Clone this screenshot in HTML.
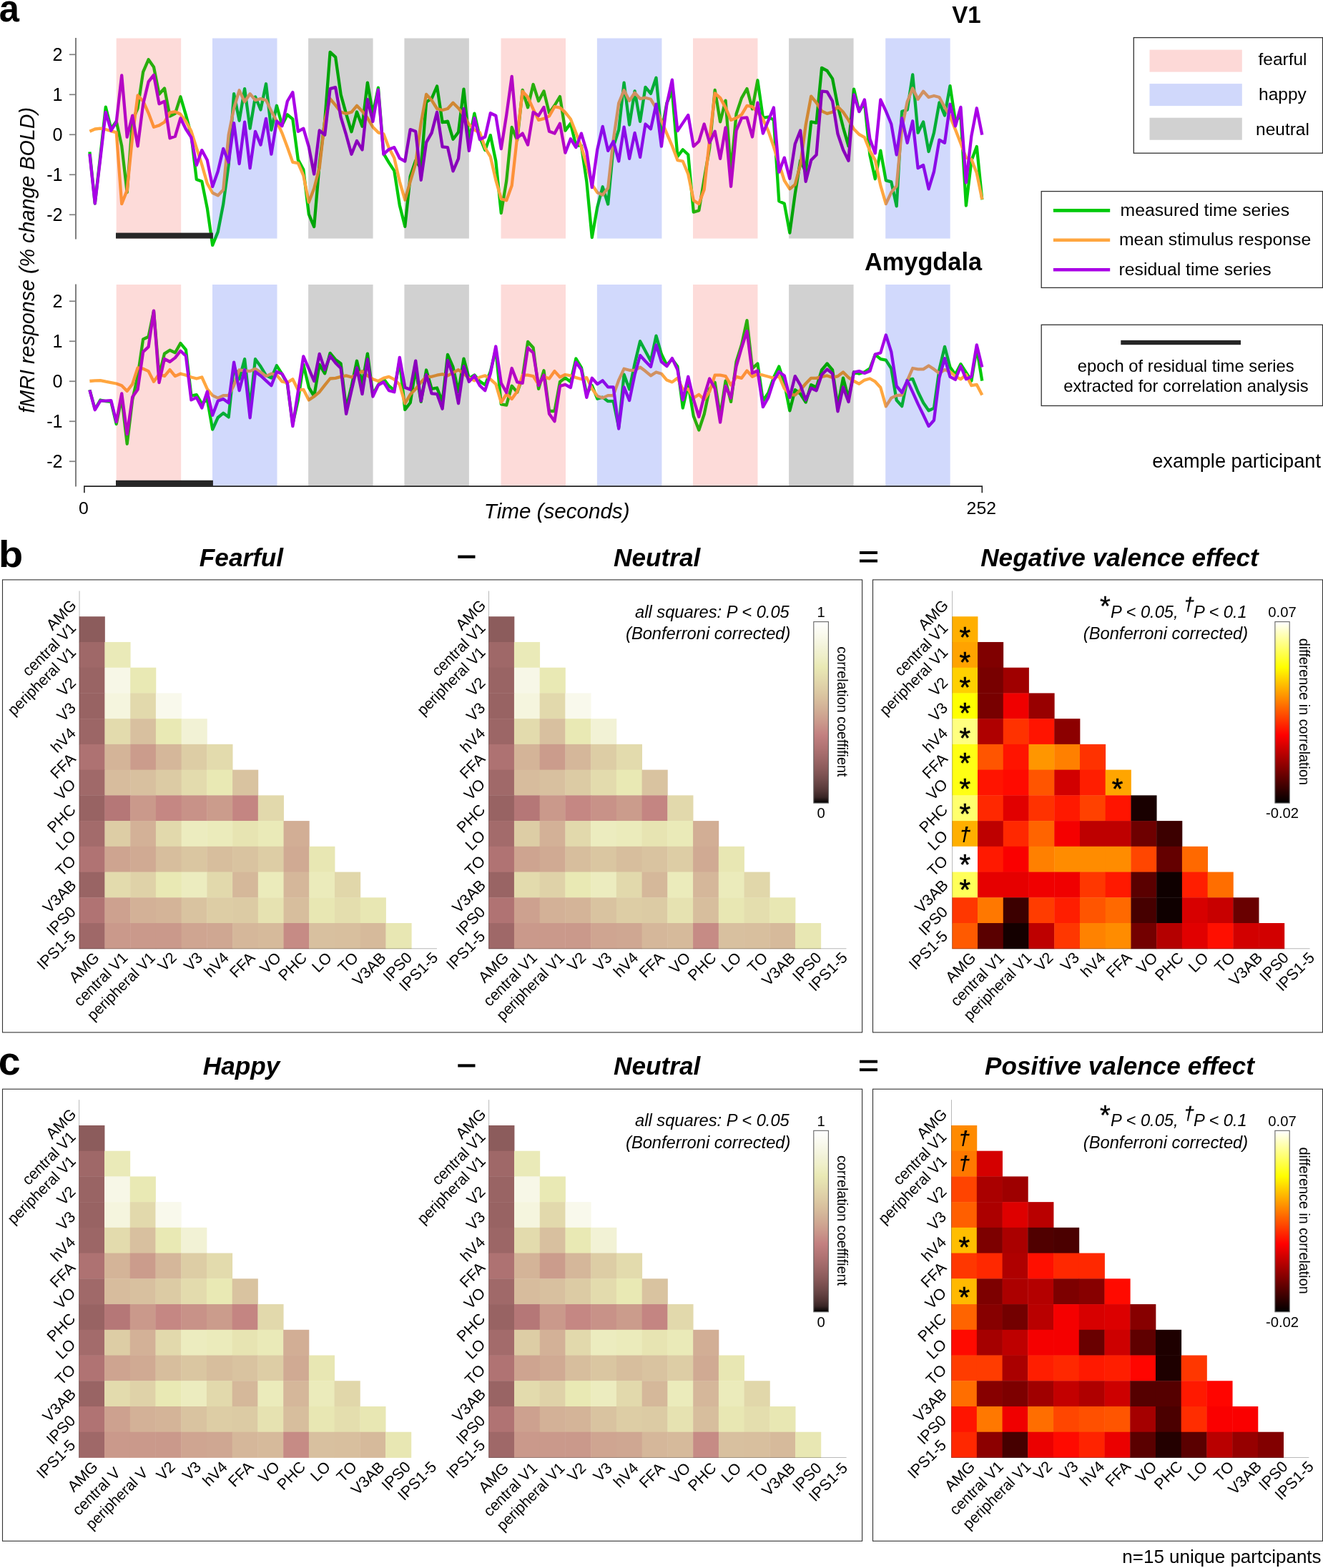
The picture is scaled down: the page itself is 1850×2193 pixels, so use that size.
<!DOCTYPE html>
<html lang="en"><head><meta charset="utf-8"><title>Figure</title>
<style>
html,body{margin:0;padding:0;background:#fff;}
body{width:1850px;height:2193px;overflow:hidden;}
svg{display:block;font-family:"Liberation Sans", Arial, Helvetica, sans-serif;}
text{font-family:"Liberation Sans", Arial, Helvetica, sans-serif;}
</style></head><body>
<svg xmlns="http://www.w3.org/2000/svg" width="1850" height="2193" viewBox="0 0 1850 2193">
<rect x="0" y="0" width="1850" height="2193" fill="#fff"/>
<polyline points="125.4,212.4 132.8,284.6 140.3,218.0 147.8,149.7 155.3,179.9 162.7,169.8 170.2,204.0 177.7,268.9 185.2,168.7 192.6,151.3 200.1,100.7 207.6,83.3 215.0,93.7 222.5,131.7 230.0,123.5 237.5,162.5 244.9,158.9 252.4,135.3 259.9,160.9 267.4,188.9 274.8,251.0 282.3,253.8 289.8,291.3 297.2,342.9 304.7,324.4 312.2,285.7 319.7,230.3 327.1,131.2 334.6,168.7 342.1,124.2 349.6,179.7 357.0,135.3 364.5,153.4 372.0,117.3 379.4,181.8 386.9,147.8 394.4,174.9 401.9,160.3 409.3,166.5 416.8,223.4 424.3,237.2 431.8,299.7 439.2,317.1 446.7,228.7 454.2,169.1 461.6,72.9 469.1,79.8 476.6,132.3 484.1,159.3 491.5,184.3 499.0,156.5 506.5,176.7 513.9,115.6 521.4,159.3 528.9,122.6 536.4,214.8 543.8,227.3 551.3,238.8 558.8,286.9 566.3,316.8 573.7,246.6 581.2,224.5 588.7,235.6 596.1,142.7 603.6,137.8 611.1,120.5 618.6,171.1 626.0,169.7 633.5,194.7 641.0,184.9 648.5,124.6 655.9,196.8 663.4,158.6 670.9,191.9 678.3,210.0 685.8,189.1 693.3,225.2 700.8,298.0 708.2,252.9 715.7,178.0 723.2,196.1 730.7,126.0 738.1,150.3 745.6,118.0 753.1,141.3 760.5,127.5 768.0,157.9 775.5,147.5 783.0,135.0 790.4,182.6 797.9,172.5 805.4,203.7 812.9,203.7 820.3,253.6 827.8,332.0 835.3,289.7 842.7,261.3 850.2,285.5 857.7,205.0 865.2,181.5 872.6,115.7 880.1,174.5 887.6,127.4 895.1,169.8 902.5,121.9 910.0,130.9 917.5,108.8 924.9,185.6 932.4,144.1 939.9,127.4 947.4,218.9 954.8,209.2 962.3,216.2 969.8,296.6 977.3,294.5 984.7,250.2 992.2,206.8 999.7,126.0 1007.1,170.4 1014.6,140.6 1022.1,240.4 1029.6,159.3 1037.0,137.1 1044.5,124.0 1052.0,152.4 1059.4,112.3 1066.9,164.8 1074.4,163.7 1081.9,167.6 1089.3,281.4 1096.8,284.8 1104.3,325.7 1111.8,271.0 1119.2,224.5 1126.7,240.4 1134.2,170.4 1141.6,171.8 1149.1,94.8 1156.6,99.0 1164.1,110.1 1171.5,148.3 1179.0,178.1 1186.5,204.4 1194.0,124.6 1201.4,155.8 1208.9,143.4 1216.4,216.9 1223.8,250.2 1231.3,210.6 1238.8,252.3 1246.3,254.3 1253.7,288.3 1261.2,155.8 1268.7,153.7 1276.2,104.5 1283.6,185.7 1291.1,170.4 1298.6,212.0 1306.0,185.7 1313.5,143.3 1321.0,161.4 1328.5,120.1 1335.9,169.0 1343.4,162.1 1350.9,287.6 1358.4,224.5 1365.8,205.0 1373.3,279.2" fill="none" stroke="#00c90a" stroke-width="4.3" stroke-linejoin="round" stroke-linecap="butt"/>
<polyline points="125.4,183.8 132.8,180.5 140.3,179.7 147.8,181.0 155.3,183.3 162.7,185.2 170.2,285.2 177.7,266.1 185.2,191.1 192.6,133.4 200.1,141.5 207.6,158.1 215.0,177.7 222.5,175.4 230.0,170.7 237.5,157.5 244.9,156.1 252.4,159.7 259.9,169.8 267.4,183.3 274.8,206.8 282.3,230.3 289.8,256.6 297.2,269.8 304.7,273.4 312.2,265.6 319.7,188.3 327.1,151.3 334.6,126.3 342.1,142.3 349.6,131.2 357.0,140.1 364.5,138.1 372.0,140.1 379.4,155.4 386.9,169.3 394.4,186.1 401.9,206.1 409.3,226.9 416.8,228.2 424.3,245.4 431.8,282.9 439.2,263.6 446.7,234.5 454.2,168.7 461.6,138.1 469.1,147.1 476.6,156.8 484.1,158.9 491.5,156.8 499.0,147.8 506.5,155.4 513.9,165.1 521.4,177.7 528.9,185.3 536.4,187.3 543.8,206.8 551.3,221.1 558.8,253.8 566.3,279.6 573.7,253.8 581.2,229.0 588.7,172.1 596.1,131.9 603.6,140.1 611.1,152.0 618.6,154.0 626.0,152.0 633.5,143.7 641.0,151.3 648.5,161.0 655.9,174.1 663.4,181.8 670.9,185.3 678.3,206.8 685.8,219.2 693.3,251.8 700.8,278.2 708.2,280.3 715.7,259.4 723.2,191.5 730.7,127.7 738.1,136.0 745.6,152.7 753.1,167.9 760.5,165.9 768.0,162.4 775.5,149.2 783.0,150.6 790.4,157.2 797.9,166.5 805.4,185.9 812.9,205.4 820.3,230.3 827.8,258.1 835.3,269.2 842.7,272.6 850.2,262.9 857.7,195.6 865.2,144.3 872.6,126.3 880.1,140.9 887.6,129.8 895.1,138.1 902.5,136.7 910.0,138.8 917.5,151.3 924.9,169.3 932.4,186.6 939.9,204.0 947.4,224.1 954.8,225.5 962.3,243.5 969.8,280.3 977.3,285.1 984.7,265.0 992.2,195.6 999.7,130.5 1007.1,136.8 1014.6,150.6 1022.1,167.9 1029.6,165.1 1037.0,160.3 1044.5,147.8 1052.0,149.2 1059.4,156.9 1066.9,166.5 1074.4,183.3 1081.9,205.4 1089.3,229.0 1096.8,252.5 1104.3,264.3 1111.8,258.1 1119.2,230.3 1126.7,174.9 1134.2,134.7 1141.6,143.7 1149.1,155.4 1156.6,158.9 1164.1,156.8 1171.5,149.2 1179.0,156.8 1186.5,167.9 1194.0,180.4 1201.4,188.0 1208.9,192.2 1216.4,210.9 1223.8,224.1 1231.3,259.4 1238.8,285.1 1246.3,269.2 1253.7,260.1 1261.2,179.0 1268.7,142.3 1276.2,123.5 1283.6,138.8 1291.1,127.7 1298.6,136.0 1306.0,134.0 1313.5,136.0 1321.0,149.9 1328.5,162.7 1335.9,181.1 1343.4,200.5 1350.9,220.6 1358.4,222.7 1365.8,242.1 1373.3,278.9" fill="none" stroke="#ffa63f" stroke-width="4.3" stroke-linejoin="round" stroke-linecap="butt"/>
<polyline points="125.4,215.2 132.8,284.6 140.3,221.9 147.8,156.9 155.3,182.7 162.7,170.9 170.2,105.4 177.7,191.7 185.2,161.7 192.6,204.5 200.1,145.7 207.6,114.4 215.0,104.9 222.5,145.2 230.0,141.8 237.5,193.3 244.9,190.8 252.4,165.3 259.9,180.5 267.4,192.2 274.8,230.9 282.3,210.1 289.8,224.1 297.2,261.1 304.7,239.8 312.2,207.9 319.7,226.9 327.1,172.1 334.6,229.0 342.1,170.7 349.6,235.2 357.0,183.8 364.5,202.6 372.0,165.9 379.4,215.7 386.9,169.3 394.4,176.3 401.9,141.5 409.3,129.1 416.8,183.8 424.3,179.7 431.8,205.4 439.2,243.5 446.7,182.5 454.2,188.7 461.6,124.2 469.1,122.2 476.6,163.8 484.1,188.7 491.5,215.7 499.0,197.0 506.5,209.5 513.9,138.8 521.4,170.0 528.9,125.6 536.4,215.7 543.8,208.9 551.3,206.1 558.8,221.3 566.3,225.5 573.7,181.1 581.2,183.8 588.7,251.8 596.1,199.1 603.6,185.9 611.1,156.8 618.6,205.4 626.0,206.1 633.5,239.3 641.0,221.9 648.5,152.0 655.9,210.9 663.4,165.1 670.9,195.0 678.3,191.5 685.8,158.2 693.3,161.7 700.8,208.1 708.2,161.0 715.7,106.9 723.2,192.9 730.7,186.6 738.1,202.6 745.6,156.8 753.1,161.7 760.5,149.9 768.0,183.8 775.5,186.6 783.0,172.8 790.4,213.7 797.9,194.2 805.4,206.1 812.9,186.6 820.3,211.6 827.8,262.2 835.3,208.9 842.7,176.9 850.2,210.9 857.7,197.7 865.2,225.5 872.6,177.7 880.1,221.9 887.6,185.9 895.1,219.9 902.5,173.5 910.0,180.4 917.5,145.7 924.9,204.7 932.4,145.7 939.9,111.7 947.4,183.1 954.8,172.1 962.3,161.0 969.8,204.7 977.3,197.7 984.7,173.5 992.2,199.5 999.7,183.8 1007.1,221.9 1014.6,178.3 1022.1,260.8 1029.6,182.5 1037.0,165.1 1044.5,164.4 1052.0,191.5 1059.4,143.7 1066.9,186.6 1074.4,168.7 1081.9,150.6 1089.3,240.7 1096.8,220.6 1104.3,249.7 1111.8,201.2 1119.2,182.5 1126.7,253.8 1134.2,224.1 1141.6,216.5 1149.1,127.7 1156.6,128.4 1164.1,141.5 1171.5,187.3 1179.0,209.5 1186.5,224.8 1194.0,132.5 1201.4,156.1 1208.9,139.5 1216.4,194.2 1223.8,214.4 1231.3,139.5 1238.8,155.4 1246.3,173.5 1253.7,216.5 1261.2,165.1 1268.7,199.8 1276.2,169.3 1283.6,235.2 1291.1,231.0 1298.6,264.3 1306.0,240.0 1313.5,195.6 1321.0,199.8 1328.5,145.7 1335.9,176.3 1343.4,149.9 1350.9,255.3 1358.4,190.1 1365.8,151.3 1373.3,188.7" fill="none" stroke="#a900e6" stroke-width="4.3" stroke-linejoin="round" stroke-linecap="butt"/>
<rect x="162.7" y="53.5" width="90.5" height="280.1" fill="rgba(244,40,30,0.17)"/>
<rect x="297.0" y="53.5" width="90.5" height="280.1" fill="rgba(20,60,240,0.195)"/>
<rect x="431.1" y="53.5" width="90.5" height="280.1" fill="rgba(0,0,0,0.18)"/>
<rect x="565.4" y="53.5" width="90.5" height="280.1" fill="rgba(0,0,0,0.18)"/>
<rect x="700.5" y="53.5" width="90.5" height="280.1" fill="rgba(244,40,30,0.17)"/>
<rect x="834.9" y="53.5" width="90.5" height="280.1" fill="rgba(20,60,240,0.195)"/>
<rect x="969.0" y="53.5" width="90.5" height="280.1" fill="rgba(244,40,30,0.17)"/>
<rect x="1103.1" y="53.5" width="90.5" height="280.1" fill="rgba(0,0,0,0.18)"/>
<rect x="1238.2" y="53.5" width="90.5" height="280.1" fill="rgba(20,60,240,0.195)"/>
<rect x="162.0" y="325.6" width="135.9" height="8" fill="#262626"/>
<line x1="106.0" y1="53.0" x2="106.0" y2="334.6" stroke="#808080" stroke-width="2"/>
<line x1="96.9" y1="76.3" x2="106.0" y2="76.3" stroke="#808080" stroke-width="1.7"/>
<text x="87.6" y="85.3" font-size="25.2" text-anchor="end" font-weight="normal" font-style="normal" fill="#000">2</text>
<line x1="96.9" y1="132.3" x2="106.0" y2="132.3" stroke="#808080" stroke-width="1.7"/>
<text x="87.6" y="141.3" font-size="25.2" text-anchor="end" font-weight="normal" font-style="normal" fill="#000">1</text>
<line x1="96.9" y1="188.3" x2="106.0" y2="188.3" stroke="#808080" stroke-width="1.7"/>
<text x="87.6" y="197.3" font-size="25.2" text-anchor="end" font-weight="normal" font-style="normal" fill="#000">0</text>
<line x1="96.9" y1="244.3" x2="106.0" y2="244.3" stroke="#808080" stroke-width="1.7"/>
<text x="87.6" y="253.3" font-size="25.2" text-anchor="end" font-weight="normal" font-style="normal" fill="#000">-1</text>
<line x1="96.9" y1="300.3" x2="106.0" y2="300.3" stroke="#808080" stroke-width="1.7"/>
<text x="87.6" y="309.3" font-size="25.2" text-anchor="end" font-weight="normal" font-style="normal" fill="#000">-2</text>
<polyline points="125.4,545.2 132.8,572.3 140.3,559.5 147.8,561.1 155.3,561.9 162.7,593.1 170.2,556.3 177.7,620.8 185.2,559.1 192.6,525.8 200.1,474.5 207.6,471.0 215.0,435.0 222.5,525.1 230.0,494.6 237.5,489.7 244.9,493.2 252.4,480.1 259.9,489.1 267.4,553.6 274.8,552.2 282.3,564.7 289.8,558.4 297.2,600.7 304.7,584.0 312.2,577.8 319.7,583.4 327.1,512.3 334.6,530.3 342.1,502.2 349.6,570.1 357.0,502.2 364.5,512.6 372.0,525.1 379.4,528.6 386.9,511.3 394.4,523.1 401.9,537.6 409.3,593.1 416.8,559.8 424.3,509.8 431.8,541.8 439.2,554.2 446.7,509.8 454.2,522.3 461.6,493.9 469.1,502.9 476.6,508.5 484.1,570.9 491.5,540.4 499.0,504.8 506.5,536.9 513.9,494.6 521.4,551.5 528.9,538.3 536.4,529.9 543.8,539.7 551.3,545.6 558.8,504.3 566.3,572.9 573.7,563.3 581.2,515.4 588.7,561.9 596.1,517.5 603.6,543.9 611.1,542.5 618.6,561.9 626.0,496.0 633.5,513.4 641.0,548.0 648.5,501.6 655.9,529.2 663.4,524.5 670.9,533.4 678.3,538.3 685.8,519.6 693.3,488.4 700.8,565.4 708.2,566.7 715.7,539.7 723.2,548.7 730.7,527.3 738.1,478.0 745.6,486.3 753.1,543.8 760.5,518.2 768.0,575.0 775.5,575.0 783.0,534.1 790.4,528.6 797.9,534.1 805.4,501.5 812.9,514.0 820.3,550.8 827.8,539.0 835.3,557.8 842.7,555.6 850.2,561.2 857.7,561.2 865.2,597.9 872.6,523.7 880.1,544.6 887.6,508.5 895.1,477.2 902.5,491.1 910.0,505.0 917.5,469.6 924.9,495.3 932.4,510.6 939.9,502.2 947.4,512.6 954.8,570.5 962.3,537.6 969.8,582.0 977.3,601.5 984.7,579.2 992.2,543.8 999.7,534.9 1007.1,582.0 1014.6,532.7 1022.1,561.9 1029.6,505.7 1037.0,482.1 1044.5,448.1 1052.0,515.4 1059.4,508.5 1066.9,560.5 1074.4,549.4 1081.9,527.9 1089.3,512.6 1096.8,535.5 1104.3,574.4 1111.8,545.2 1119.2,550.8 1126.7,562.6 1134.2,538.2 1141.6,541.7 1149.1,517.5 1156.6,508.5 1164.1,517.5 1171.5,568.1 1179.0,528.6 1186.5,557.0 1194.0,520.3 1201.4,522.7 1208.9,520.3 1216.4,515.4 1223.8,495.9 1231.3,502.2 1238.8,503.6 1246.3,515.4 1253.7,559.8 1261.2,568.1 1268.7,531.4 1276.2,529.9 1283.6,548.0 1291.1,563.3 1298.6,574.3 1306.0,570.9 1313.5,516.8 1321.0,484.9 1328.5,513.4 1335.9,523.7 1343.4,509.2 1350.9,521.0 1358.4,532.7 1365.8,487.0 1373.3,532.7" fill="none" stroke="#00c90a" stroke-width="4.3" stroke-linejoin="round" stroke-linecap="butt"/>
<polyline points="125.4,533.0 132.8,532.3 140.3,532.1 147.8,533.7 155.3,535.1 162.7,536.5 170.2,539.2 177.7,546.9 185.2,537.2 192.6,514.3 200.1,515.7 207.6,519.1 215.0,533.7 222.5,523.3 230.0,526.1 237.5,517.1 244.9,526.1 252.4,522.7 259.9,524.7 267.4,527.5 274.8,529.5 282.3,527.5 289.8,544.1 297.2,553.1 304.7,556.6 312.2,553.1 319.7,553.1 327.1,538.9 334.6,517.5 342.1,518.5 349.6,519.1 357.0,515.7 364.5,520.5 372.0,526.1 379.4,522.7 386.9,524.7 394.4,533.7 401.9,535.1 409.3,530.3 416.8,545.5 424.3,544.8 431.8,559.4 439.2,554.5 446.7,548.3 454.2,538.6 461.6,529.5 469.1,528.8 476.6,526.8 484.1,525.4 491.5,527.5 499.0,523.8 506.5,519.1 513.9,525.4 521.4,530.3 528.9,533.0 536.4,528.8 543.8,526.8 551.3,530.6 558.8,537.9 566.3,564.2 573.7,551.8 581.2,544.1 588.7,534.4 596.1,526.8 603.6,526.8 611.1,524.7 618.6,523.3 626.0,525.4 633.5,521.3 641.0,517.1 648.5,522.7 655.9,528.8 663.4,532.3 670.9,527.5 678.3,525.4 685.8,530.3 693.3,537.2 700.8,562.9 708.2,551.1 715.7,558.0 723.2,547.6 730.7,524.7 738.1,524.7 745.6,526.1 753.1,537.9 760.5,526.8 768.0,529.5 775.5,519.1 783.0,527.5 790.4,524.0 797.9,525.4 805.4,528.1 812.9,530.3 820.3,528.1 827.8,543.4 835.3,553.9 842.7,556.6 850.2,553.1 857.7,553.1 865.2,531.6 872.6,515.7 880.1,517.8 887.6,517.8 895.1,513.6 902.5,519.1 910.0,525.4 917.5,520.5 924.9,522.7 932.4,531.6 939.9,534.4 947.4,528.8 954.8,544.4 962.3,544.1 969.8,556.6 977.3,551.8 984.7,558.7 992.2,547.6 999.7,524.7 1007.1,524.7 1014.6,526.1 1022.1,538.6 1029.6,526.8 1037.0,528.8 1044.5,518.5 1052.0,526.8 1059.4,523.3 1066.9,524.7 1074.4,526.8 1081.9,528.8 1089.3,526.1 1096.8,543.4 1104.3,551.8 1111.8,552.5 1119.2,545.5 1126.7,536.5 1134.2,528.8 1141.6,528.8 1149.1,526.8 1156.6,525.4 1164.1,528.1 1171.5,526.1 1179.0,520.5 1186.5,528.1 1194.0,533.0 1201.4,536.8 1208.9,531.6 1216.4,529.5 1223.8,533.7 1231.3,542.0 1238.8,568.4 1246.3,556.6 1253.7,553.1 1261.2,552.5 1268.7,532.3 1276.2,515.0 1283.6,516.4 1291.1,516.4 1298.6,511.5 1306.0,516.4 1313.5,521.9 1321.0,517.1 1328.5,519.9 1335.9,526.1 1343.4,530.3 1350.9,524.0 1358.4,539.2 1365.8,537.9 1373.3,552.5" fill="none" stroke="#ffa63f" stroke-width="4.3" stroke-linejoin="round" stroke-linecap="butt"/>
<polyline points="125.4,545.5 132.8,573.2 140.3,560.7 147.8,560.7 155.3,560.1 162.7,589.9 170.2,550.4 177.7,607.2 185.2,555.2 192.6,544.8 200.1,492.1 207.6,485.1 215.0,434.6 222.5,535.1 230.0,501.8 237.5,506.0 244.9,500.4 252.4,490.7 259.9,497.7 267.4,559.4 274.8,555.9 282.3,570.5 289.8,547.6 297.2,580.8 304.7,560.7 312.2,558.0 319.7,563.5 327.1,506.7 334.6,546.2 342.1,517.1 349.6,584.3 357.0,519.9 364.5,525.4 372.0,532.3 379.4,539.2 386.9,519.9 394.4,522.7 401.9,535.8 409.3,596.1 416.8,547.6 424.3,498.4 431.8,515.7 439.2,533.0 446.7,494.9 454.2,517.1 461.6,497.7 469.1,507.4 476.6,515.0 484.1,578.8 491.5,546.2 499.0,514.3 506.5,551.1 513.9,502.5 521.4,554.5 528.9,538.6 536.4,534.4 543.8,546.2 551.3,548.3 558.8,499.8 566.3,542.0 573.7,544.8 581.2,504.6 588.7,560.7 596.1,524.0 603.6,550.4 611.1,551.1 618.6,571.8 626.0,503.9 633.5,525.4 641.0,564.2 648.5,512.2 655.9,533.7 663.4,525.4 670.9,539.2 678.3,546.2 685.8,522.7 693.3,484.5 700.8,535.8 708.2,549.0 715.7,515.0 723.2,534.4 730.7,535.8 738.1,486.5 745.6,493.5 753.1,539.2 760.5,524.7 768.0,578.8 775.5,589.2 783.0,540.0 790.4,537.9 797.9,542.0 805.4,506.7 812.9,517.1 820.3,555.9 827.8,528.8 835.3,537.2 842.7,532.3 850.2,541.4 857.7,541.4 865.2,599.6 872.6,541.4 880.1,560.1 887.6,524.0 895.1,497.0 902.5,505.3 910.0,512.9 917.5,482.4 924.9,506.0 932.4,512.2 939.9,501.1 947.4,517.1 954.8,559.4 962.3,526.8 969.8,558.7 977.3,583.0 984.7,553.9 992.2,529.5 999.7,543.4 1007.1,590.6 1014.6,540.0 1022.1,556.6 1029.6,512.2 1037.0,486.5 1044.5,463.0 1052.0,521.9 1059.4,518.5 1066.9,569.1 1074.4,555.9 1081.9,532.3 1089.3,519.9 1096.8,525.4 1104.3,555.9 1111.8,526.1 1119.2,538.6 1126.7,559.4 1134.2,542.7 1141.6,546.2 1149.1,524.0 1156.6,516.4 1164.1,522.7 1171.5,575.3 1179.0,541.4 1186.5,562.1 1194.0,520.5 1201.4,519.1 1208.9,521.9 1216.4,519.1 1223.8,495.6 1231.3,493.5 1238.8,468.5 1246.3,492.1 1253.7,540.0 1261.2,549.0 1268.7,532.3 1276.2,548.3 1283.6,564.9 1291.1,580.2 1298.6,596.1 1306.0,587.8 1313.5,528.1 1321.0,501.1 1328.5,526.8 1335.9,530.9 1343.4,512.2 1350.9,530.3 1358.4,526.8 1365.8,482.4 1373.3,513.6" fill="none" stroke="#a900e6" stroke-width="4.3" stroke-linejoin="round" stroke-linecap="butt"/>
<rect x="162.7" y="398.0" width="90.5" height="281.6" fill="rgba(244,40,30,0.17)"/>
<rect x="297.0" y="398.0" width="90.5" height="281.6" fill="rgba(20,60,240,0.195)"/>
<rect x="431.1" y="398.0" width="90.5" height="281.6" fill="rgba(0,0,0,0.18)"/>
<rect x="565.4" y="398.0" width="90.5" height="281.6" fill="rgba(0,0,0,0.18)"/>
<rect x="700.5" y="398.0" width="90.5" height="281.6" fill="rgba(244,40,30,0.17)"/>
<rect x="834.9" y="398.0" width="90.5" height="281.6" fill="rgba(20,60,240,0.195)"/>
<rect x="969.0" y="398.0" width="90.5" height="281.6" fill="rgba(244,40,30,0.17)"/>
<rect x="1103.1" y="398.0" width="90.5" height="281.6" fill="rgba(0,0,0,0.18)"/>
<rect x="1238.2" y="398.0" width="90.5" height="281.6" fill="rgba(20,60,240,0.195)"/>
<rect x="162.0" y="671.8" width="135.9" height="8" fill="#262626"/>
<line x1="106.0" y1="397.5" x2="106.0" y2="680.6" stroke="#808080" stroke-width="2"/>
<line x1="96.9" y1="421.3" x2="106.0" y2="421.3" stroke="#808080" stroke-width="1.7"/>
<text x="87.6" y="430.3" font-size="25.2" text-anchor="end" font-weight="normal" font-style="normal" fill="#000">2</text>
<line x1="96.9" y1="477.3" x2="106.0" y2="477.3" stroke="#808080" stroke-width="1.7"/>
<text x="87.6" y="486.3" font-size="25.2" text-anchor="end" font-weight="normal" font-style="normal" fill="#000">1</text>
<line x1="96.9" y1="533.3" x2="106.0" y2="533.3" stroke="#808080" stroke-width="1.7"/>
<text x="87.6" y="542.3" font-size="25.2" text-anchor="end" font-weight="normal" font-style="normal" fill="#000">0</text>
<line x1="96.9" y1="589.3" x2="106.0" y2="589.3" stroke="#808080" stroke-width="1.7"/>
<text x="87.6" y="598.3" font-size="25.2" text-anchor="end" font-weight="normal" font-style="normal" fill="#000">-1</text>
<line x1="96.9" y1="645.3" x2="106.0" y2="645.3" stroke="#808080" stroke-width="1.7"/>
<text x="87.6" y="654.3" font-size="25.2" text-anchor="end" font-weight="normal" font-style="normal" fill="#000">-2</text>
<path d="M117.9 689.2 V680.1 H1373.3 V689.2" fill="none" stroke="#222" stroke-width="1.6"/>
<text x="116.8" y="718.8" font-size="24.8" text-anchor="middle" font-weight="normal" font-style="normal" fill="#000">0</text>
<text x="1372.3" y="718.8" font-size="24.8" text-anchor="middle" font-weight="normal" font-style="normal" fill="#000">252</text>
<text x="778.7" y="725.3" font-size="29.6" text-anchor="middle" font-weight="normal" font-style="italic" fill="#000">Time (seconds)</text>
<text transform="translate(47.50,363.80) rotate(-90)" font-size="28.73" text-anchor="middle" font-weight="normal" font-style="italic" fill="#000">fMRI response (% change BOLD)</text>
<text x="-1.2" y="29.6" font-size="54.5" text-anchor="start" font-weight="bold" font-style="normal" fill="#000" textLength="28.19" lengthAdjust="spacingAndGlyphs">a</text>
<text x="1371.5" y="32" font-size="33" text-anchor="end" font-weight="bold" font-style="normal" fill="#000">V1</text>
<text x="1373" y="377.5" font-size="34.3" text-anchor="end" font-weight="bold" font-style="normal" fill="#000">Amygdala</text>
<rect x="1585.3" y="52.6" width="264.2" height="161.6" fill="none" stroke="#333" stroke-width="1.3"/>
<rect x="1607.5" y="69.6" width="129.3" height="31" fill="#fdd9d7"/>
<text x="1793.5" y="91.1" font-size="24.5" text-anchor="middle" font-weight="normal" font-style="normal" fill="#000">fearful</text>
<rect x="1607.5" y="117.1" width="129.3" height="31" fill="#d0d8fb"/>
<text x="1793.5" y="140.2" font-size="24.5" text-anchor="middle" font-weight="normal" font-style="normal" fill="#000">happy</text>
<rect x="1607.5" y="164.7" width="129.3" height="31" fill="#d1d1d1"/>
<text x="1793.5" y="188.8" font-size="24.5" text-anchor="middle" font-weight="normal" font-style="normal" fill="#000">neutral</text>
<rect x="1456.2" y="267.6" width="393.3" height="134.8" fill="none" stroke="#333" stroke-width="1.3"/>
<line x1="1472.9" y1="294.4" x2="1552.2" y2="294.4" stroke="#00c90a" stroke-width="4.6"/>
<text x="1566.6" y="301.8" font-size="24.75" text-anchor="start" font-weight="normal" font-style="normal" fill="#000">measured time series</text>
<line x1="1472.9" y1="335.8" x2="1552.2" y2="335.8" stroke="#ffa63f" stroke-width="4.6"/>
<text x="1565.0" y="343.2" font-size="24.75" text-anchor="start" font-weight="normal" font-style="normal" fill="#000">mean stimulus response</text>
<line x1="1472.9" y1="377.2" x2="1552.2" y2="377.2" stroke="#a900e6" stroke-width="4.6"/>
<text x="1564.5" y="384.6" font-size="24.75" text-anchor="start" font-weight="normal" font-style="normal" fill="#000">residual time series</text>
<rect x="1456.2" y="454.3" width="393.3" height="113.2" fill="none" stroke="#333" stroke-width="1.3"/>
<rect x="1567.3" y="475.9" width="167.7" height="6.3" fill="#262626"/>
<text x="1658.3" y="520.1" font-size="23.8" text-anchor="middle" font-weight="normal" font-style="normal" fill="#000">epoch of residual time series</text>
<text x="1658.5" y="548.3" font-size="23.8" text-anchor="middle" font-weight="normal" font-style="normal" fill="#000">extracted for correlation analysis</text>
<text x="1847" y="653.7" font-size="27.2" text-anchor="end" font-weight="normal" font-style="normal" fill="#000">example participant</text>
<rect x="3.5" y="810.9" width="1202.1" height="633" fill="none" stroke="#333" stroke-width="1.1"/>
<rect x="1220.5" y="810.9" width="629" height="633" fill="none" stroke="#333" stroke-width="1.1"/>
<text x="-2.0" y="793.3" font-size="52" text-anchor="start" font-weight="bold" font-style="normal" fill="#000" textLength="34.15" lengthAdjust="spacingAndGlyphs">b</text>
<text x="337.5" y="791.7" font-size="35.2" text-anchor="middle" font-weight="bold" font-style="italic" fill="#000">Fearful</text>
<text x="918.7" y="791.7" font-size="35.2" text-anchor="middle" font-weight="bold" font-style="italic" fill="#000">Neutral</text>
<text x="1565.5" y="791.7" font-size="35.2" text-anchor="middle" font-weight="bold" font-style="italic" fill="#000">Negative valence effect</text>
<rect x="640.3" y="776.6" width="24.2" height="4.2" fill="#000"/>
<rect x="1202" y="771.0" width="25" height="4" fill="#000"/>
<rect x="1202" y="782.5" width="25" height="4" fill="#000"/>
<rect x="110.70" y="862.23" width="36.13" height="36.13" fill="#8c5c5c"/>
<rect x="110.70" y="897.96" width="36.13" height="36.13" fill="#9f6868"/>
<rect x="146.43" y="897.96" width="36.13" height="36.13" fill="#eaeab8"/>
<rect x="110.70" y="933.70" width="36.13" height="36.13" fill="#996464"/>
<rect x="146.43" y="933.70" width="36.13" height="36.13" fill="#f7f7e7"/>
<rect x="182.16" y="933.70" width="36.13" height="36.13" fill="#e9e9b4"/>
<rect x="110.70" y="969.43" width="36.13" height="36.13" fill="#986363"/>
<rect x="146.43" y="969.43" width="36.13" height="36.13" fill="#f5f5de"/>
<rect x="182.16" y="969.43" width="36.13" height="36.13" fill="#e2d9ac"/>
<rect x="217.90" y="969.43" width="36.13" height="36.13" fill="#f9f9ec"/>
<rect x="110.70" y="1005.16" width="36.13" height="36.13" fill="#9c6666"/>
<rect x="146.43" y="1005.16" width="36.13" height="36.13" fill="#e3dbad"/>
<rect x="182.16" y="1005.16" width="36.13" height="36.13" fill="#d8c09f"/>
<rect x="217.90" y="1005.16" width="36.13" height="36.13" fill="#e9e9b4"/>
<rect x="253.63" y="1005.16" width="36.13" height="36.13" fill="#f2f2d5"/>
<rect x="110.70" y="1040.89" width="36.13" height="36.13" fill="#ae7272"/>
<rect x="146.43" y="1040.89" width="36.13" height="36.13" fill="#d4b498"/>
<rect x="182.16" y="1040.89" width="36.13" height="36.13" fill="#cb9c8c"/>
<rect x="217.90" y="1040.89" width="36.13" height="36.13" fill="#d5b79a"/>
<rect x="253.63" y="1040.89" width="36.13" height="36.13" fill="#ddcda5"/>
<rect x="289.36" y="1040.89" width="36.13" height="36.13" fill="#e3dbad"/>
<rect x="110.70" y="1076.62" width="36.13" height="36.13" fill="#a06969"/>
<rect x="146.43" y="1076.62" width="36.13" height="36.13" fill="#d7bc9d"/>
<rect x="182.16" y="1076.62" width="36.13" height="36.13" fill="#d8c09f"/>
<rect x="217.90" y="1076.62" width="36.13" height="36.13" fill="#dccba4"/>
<rect x="253.63" y="1076.62" width="36.13" height="36.13" fill="#e3dbad"/>
<rect x="289.36" y="1076.62" width="36.13" height="36.13" fill="#e9e9b4"/>
<rect x="325.09" y="1076.62" width="36.13" height="36.13" fill="#d9c3a0"/>
<rect x="110.70" y="1112.36" width="36.13" height="36.13" fill="#986363"/>
<rect x="146.43" y="1112.36" width="36.13" height="36.13" fill="#b57777"/>
<rect x="182.16" y="1112.36" width="36.13" height="36.13" fill="#ca998b"/>
<rect x="217.90" y="1112.36" width="36.13" height="36.13" fill="#c58783"/>
<rect x="253.63" y="1112.36" width="36.13" height="36.13" fill="#c89288"/>
<rect x="289.36" y="1112.36" width="36.13" height="36.13" fill="#cb9c8c"/>
<rect x="325.09" y="1112.36" width="36.13" height="36.13" fill="#c48582"/>
<rect x="360.82" y="1112.36" width="36.13" height="36.13" fill="#e2d9ac"/>
<rect x="110.70" y="1148.09" width="36.13" height="36.13" fill="#a36b6b"/>
<rect x="146.43" y="1148.09" width="36.13" height="36.13" fill="#ddcda5"/>
<rect x="182.16" y="1148.09" width="36.13" height="36.13" fill="#d3b197"/>
<rect x="217.90" y="1148.09" width="36.13" height="36.13" fill="#e2d9ac"/>
<rect x="253.63" y="1148.09" width="36.13" height="36.13" fill="#ececbf"/>
<rect x="289.36" y="1148.09" width="36.13" height="36.13" fill="#ebebbb"/>
<rect x="325.09" y="1148.09" width="36.13" height="36.13" fill="#e7e4b2"/>
<rect x="360.82" y="1148.09" width="36.13" height="36.13" fill="#eaeab8"/>
<rect x="396.56" y="1148.09" width="36.13" height="36.13" fill="#d2ae95"/>
<rect x="110.70" y="1183.82" width="36.13" height="36.13" fill="#b07373"/>
<rect x="146.43" y="1183.82" width="36.13" height="36.13" fill="#cea490"/>
<rect x="182.16" y="1183.82" width="36.13" height="36.13" fill="#d0aa93"/>
<rect x="217.90" y="1183.82" width="36.13" height="36.13" fill="#d7be9d"/>
<rect x="253.63" y="1183.82" width="36.13" height="36.13" fill="#dac6a1"/>
<rect x="289.36" y="1183.82" width="36.13" height="36.13" fill="#d7be9d"/>
<rect x="325.09" y="1183.82" width="36.13" height="36.13" fill="#d9c3a0"/>
<rect x="360.82" y="1183.82" width="36.13" height="36.13" fill="#ddcda5"/>
<rect x="396.56" y="1183.82" width="36.13" height="36.13" fill="#d0aa93"/>
<rect x="432.29" y="1183.82" width="36.13" height="36.13" fill="#e8e7b3"/>
<rect x="110.70" y="1219.55" width="36.13" height="36.13" fill="#996464"/>
<rect x="146.43" y="1219.55" width="36.13" height="36.13" fill="#e3dbad"/>
<rect x="182.16" y="1219.55" width="36.13" height="36.13" fill="#dfd2a8"/>
<rect x="217.90" y="1219.55" width="36.13" height="36.13" fill="#e9e9b4"/>
<rect x="253.63" y="1219.55" width="36.13" height="36.13" fill="#ececbf"/>
<rect x="289.36" y="1219.55" width="36.13" height="36.13" fill="#e2d9ac"/>
<rect x="325.09" y="1219.55" width="36.13" height="36.13" fill="#d5b89a"/>
<rect x="360.82" y="1219.55" width="36.13" height="36.13" fill="#ebebbb"/>
<rect x="396.56" y="1219.55" width="36.13" height="36.13" fill="#d5b79a"/>
<rect x="432.29" y="1219.55" width="36.13" height="36.13" fill="#ebebbb"/>
<rect x="468.02" y="1219.55" width="36.13" height="36.13" fill="#e1d7aa"/>
<rect x="110.70" y="1255.29" width="36.13" height="36.13" fill="#b07373"/>
<rect x="146.43" y="1255.29" width="36.13" height="36.13" fill="#cda18f"/>
<rect x="182.16" y="1255.29" width="36.13" height="36.13" fill="#d3b197"/>
<rect x="217.90" y="1255.29" width="36.13" height="36.13" fill="#d4b498"/>
<rect x="253.63" y="1255.29" width="36.13" height="36.13" fill="#d9c3a0"/>
<rect x="289.36" y="1255.29" width="36.13" height="36.13" fill="#ddcda5"/>
<rect x="325.09" y="1255.29" width="36.13" height="36.13" fill="#dccba4"/>
<rect x="360.82" y="1255.29" width="36.13" height="36.13" fill="#e6e2b1"/>
<rect x="396.56" y="1255.29" width="36.13" height="36.13" fill="#d7be9d"/>
<rect x="432.29" y="1255.29" width="36.13" height="36.13" fill="#e8e7b3"/>
<rect x="468.02" y="1255.29" width="36.13" height="36.13" fill="#e4deae"/>
<rect x="503.75" y="1255.29" width="36.13" height="36.13" fill="#e8e7b3"/>
<rect x="110.70" y="1291.02" width="36.13" height="36.18" fill="#9f6868"/>
<rect x="146.43" y="1291.02" width="36.13" height="36.18" fill="#ca998b"/>
<rect x="182.16" y="1291.02" width="36.13" height="36.18" fill="#ca998b"/>
<rect x="217.90" y="1291.02" width="36.13" height="36.18" fill="#ca998b"/>
<rect x="253.63" y="1291.02" width="36.13" height="36.18" fill="#cfa591"/>
<rect x="289.36" y="1291.02" width="36.13" height="36.18" fill="#cfa792"/>
<rect x="325.09" y="1291.02" width="36.13" height="36.18" fill="#d5b79a"/>
<rect x="360.82" y="1291.02" width="36.13" height="36.18" fill="#d6ba9b"/>
<rect x="396.56" y="1291.02" width="36.13" height="36.18" fill="#c68b85"/>
<rect x="432.29" y="1291.02" width="36.13" height="36.18" fill="#d8c09f"/>
<rect x="468.02" y="1291.02" width="36.13" height="36.18" fill="#d8bf9e"/>
<rect x="503.75" y="1291.02" width="36.13" height="36.18" fill="#d6ba9b"/>
<rect x="539.49" y="1291.02" width="36.13" height="36.18" fill="#e8e7b3"/>
<rect x="110.60" y="826.50" width="0.9" height="500.70" fill="rgba(40,40,40,0.36)"/>
<rect x="111.50" y="1326.30" width="499.45" height="0.9" fill="rgba(40,40,40,0.36)"/>
<text transform="translate(108.20,847.87) rotate(-45)" font-size="21.6" text-anchor="end" font-weight="normal" font-style="normal" fill="#000">AMG</text>
<text transform="translate(107.50,879.70) rotate(-45)" font-size="21.6" text-anchor="end" font-weight="normal" font-style="normal" fill="#000" textLength="95.3" lengthAdjust="spacingAndGlyphs">central V1</text>
<text transform="translate(107.50,913.73) rotate(-45)" font-size="21.6" text-anchor="end" font-weight="normal" font-style="normal" fill="#000" textLength="124.37" lengthAdjust="spacingAndGlyphs">peripheral V1</text>
<text transform="translate(107.50,956.36) rotate(-45)" font-size="21.6" text-anchor="end" font-weight="normal" font-style="normal" fill="#000">V2</text>
<text transform="translate(107.20,991.59) rotate(-45)" font-size="21.6" text-anchor="end" font-weight="normal" font-style="normal" fill="#000">V3</text>
<text transform="translate(107.20,1026.83) rotate(-45)" font-size="21.6" text-anchor="end" font-weight="normal" font-style="normal" fill="#000">hV4</text>
<text transform="translate(107.20,1062.56) rotate(-45)" font-size="21.6" text-anchor="end" font-weight="normal" font-style="normal" fill="#000">FFA</text>
<text transform="translate(107.20,1098.29) rotate(-45)" font-size="21.6" text-anchor="end" font-weight="normal" font-style="normal" fill="#000">VO</text>
<text transform="translate(107.20,1134.02) rotate(-45)" font-size="21.6" text-anchor="end" font-weight="normal" font-style="normal" fill="#000">PHC</text>
<text transform="translate(107.40,1170.26) rotate(-45)" font-size="21.6" text-anchor="end" font-weight="normal" font-style="normal" fill="#000">LO</text>
<text transform="translate(107.40,1205.69) rotate(-45)" font-size="21.6" text-anchor="end" font-weight="normal" font-style="normal" fill="#000">TO</text>
<text transform="translate(107.90,1239.22) rotate(-45)" font-size="21.6" text-anchor="end" font-weight="normal" font-style="normal" fill="#000">V3AB</text>
<text transform="translate(107.20,1276.65) rotate(-45)" font-size="21.6" text-anchor="end" font-weight="normal" font-style="normal" fill="#000">IPS0</text>
<text transform="translate(107.20,1310.88) rotate(-45)" font-size="21.6" text-anchor="end" font-weight="normal" font-style="normal" fill="#000">IPS1-5</text>
<text transform="translate(140.07,1340.85) rotate(-45)" font-size="21.6" text-anchor="end" font-weight="normal" font-style="normal" fill="#000">AMG</text>
<text transform="translate(179.90,1340.85) rotate(-45)" font-size="21.6" text-anchor="end" font-weight="normal" font-style="normal" fill="#000" textLength="95.89" lengthAdjust="spacingAndGlyphs">central V1</text>
<text transform="translate(218.23,1340.85) rotate(-45)" font-size="21.6" text-anchor="end" font-weight="normal" font-style="normal" fill="#000" textLength="123.99" lengthAdjust="spacingAndGlyphs">peripheral V1</text>
<text transform="translate(248.26,1340.85) rotate(-45)" font-size="21.6" text-anchor="end" font-weight="normal" font-style="normal" fill="#000">V2</text>
<text transform="translate(284.59,1340.85) rotate(-45)" font-size="21.6" text-anchor="end" font-weight="normal" font-style="normal" fill="#000">V3</text>
<text transform="translate(321.33,1340.85) rotate(-45)" font-size="21.6" text-anchor="end" font-weight="normal" font-style="normal" fill="#000">hV4</text>
<text transform="translate(358.06,1340.85) rotate(-45)" font-size="21.6" text-anchor="end" font-weight="normal" font-style="normal" fill="#000">FFA</text>
<text transform="translate(394.29,1340.85) rotate(-45)" font-size="21.6" text-anchor="end" font-weight="normal" font-style="normal" fill="#000">VO</text>
<text transform="translate(430.52,1340.85) rotate(-45)" font-size="21.6" text-anchor="end" font-weight="normal" font-style="normal" fill="#000">PHC</text>
<text transform="translate(465.26,1340.85) rotate(-45)" font-size="21.6" text-anchor="end" font-weight="normal" font-style="normal" fill="#000">LO</text>
<text transform="translate(502.49,1340.85) rotate(-45)" font-size="21.6" text-anchor="end" font-weight="normal" font-style="normal" fill="#000">TO</text>
<text transform="translate(540.82,1340.85) rotate(-45)" font-size="21.6" text-anchor="end" font-weight="normal" font-style="normal" fill="#000">V3AB</text>
<text transform="translate(577.55,1340.85) rotate(-45)" font-size="21.6" text-anchor="end" font-weight="normal" font-style="normal" fill="#000">IPS0</text>
<text transform="translate(613.78,1340.85) rotate(-45)" font-size="21.6" text-anchor="end" font-weight="normal" font-style="normal" fill="#000">IPS1-5</text>
<rect x="683.20" y="862.23" width="36.13" height="36.13" fill="#8c5c5c"/>
<rect x="683.20" y="897.96" width="36.13" height="36.13" fill="#9f6868"/>
<rect x="718.93" y="897.96" width="36.13" height="36.13" fill="#eaeab8"/>
<rect x="683.20" y="933.70" width="36.13" height="36.13" fill="#996464"/>
<rect x="718.93" y="933.70" width="36.13" height="36.13" fill="#f7f7e7"/>
<rect x="754.66" y="933.70" width="36.13" height="36.13" fill="#e9e9b4"/>
<rect x="683.20" y="969.43" width="36.13" height="36.13" fill="#986363"/>
<rect x="718.93" y="969.43" width="36.13" height="36.13" fill="#f5f5de"/>
<rect x="754.66" y="969.43" width="36.13" height="36.13" fill="#e2d9ac"/>
<rect x="790.40" y="969.43" width="36.13" height="36.13" fill="#f9f9ec"/>
<rect x="683.20" y="1005.16" width="36.13" height="36.13" fill="#9c6666"/>
<rect x="718.93" y="1005.16" width="36.13" height="36.13" fill="#e3dbad"/>
<rect x="754.66" y="1005.16" width="36.13" height="36.13" fill="#d8c09f"/>
<rect x="790.40" y="1005.16" width="36.13" height="36.13" fill="#e9e9b4"/>
<rect x="826.13" y="1005.16" width="36.13" height="36.13" fill="#f2f2d5"/>
<rect x="683.20" y="1040.89" width="36.13" height="36.13" fill="#ae7272"/>
<rect x="718.93" y="1040.89" width="36.13" height="36.13" fill="#d4b498"/>
<rect x="754.66" y="1040.89" width="36.13" height="36.13" fill="#cb9c8c"/>
<rect x="790.40" y="1040.89" width="36.13" height="36.13" fill="#d5b79a"/>
<rect x="826.13" y="1040.89" width="36.13" height="36.13" fill="#ddcda5"/>
<rect x="861.86" y="1040.89" width="36.13" height="36.13" fill="#e3dbad"/>
<rect x="683.20" y="1076.62" width="36.13" height="36.13" fill="#a06969"/>
<rect x="718.93" y="1076.62" width="36.13" height="36.13" fill="#d7bc9d"/>
<rect x="754.66" y="1076.62" width="36.13" height="36.13" fill="#d8c09f"/>
<rect x="790.40" y="1076.62" width="36.13" height="36.13" fill="#dccba4"/>
<rect x="826.13" y="1076.62" width="36.13" height="36.13" fill="#e3dbad"/>
<rect x="861.86" y="1076.62" width="36.13" height="36.13" fill="#e9e9b4"/>
<rect x="897.59" y="1076.62" width="36.13" height="36.13" fill="#d9c3a0"/>
<rect x="683.20" y="1112.36" width="36.13" height="36.13" fill="#986363"/>
<rect x="718.93" y="1112.36" width="36.13" height="36.13" fill="#b57777"/>
<rect x="754.66" y="1112.36" width="36.13" height="36.13" fill="#ca998b"/>
<rect x="790.40" y="1112.36" width="36.13" height="36.13" fill="#c58783"/>
<rect x="826.13" y="1112.36" width="36.13" height="36.13" fill="#c89288"/>
<rect x="861.86" y="1112.36" width="36.13" height="36.13" fill="#cb9c8c"/>
<rect x="897.59" y="1112.36" width="36.13" height="36.13" fill="#c48582"/>
<rect x="933.33" y="1112.36" width="36.13" height="36.13" fill="#e2d9ac"/>
<rect x="683.20" y="1148.09" width="36.13" height="36.13" fill="#a36b6b"/>
<rect x="718.93" y="1148.09" width="36.13" height="36.13" fill="#ddcda5"/>
<rect x="754.66" y="1148.09" width="36.13" height="36.13" fill="#d3b197"/>
<rect x="790.40" y="1148.09" width="36.13" height="36.13" fill="#e2d9ac"/>
<rect x="826.13" y="1148.09" width="36.13" height="36.13" fill="#ececbf"/>
<rect x="861.86" y="1148.09" width="36.13" height="36.13" fill="#ebebbb"/>
<rect x="897.59" y="1148.09" width="36.13" height="36.13" fill="#e7e4b2"/>
<rect x="933.33" y="1148.09" width="36.13" height="36.13" fill="#eaeab8"/>
<rect x="969.06" y="1148.09" width="36.13" height="36.13" fill="#d2ae95"/>
<rect x="683.20" y="1183.82" width="36.13" height="36.13" fill="#b07373"/>
<rect x="718.93" y="1183.82" width="36.13" height="36.13" fill="#cea490"/>
<rect x="754.66" y="1183.82" width="36.13" height="36.13" fill="#d0aa93"/>
<rect x="790.40" y="1183.82" width="36.13" height="36.13" fill="#d7be9d"/>
<rect x="826.13" y="1183.82" width="36.13" height="36.13" fill="#dac6a1"/>
<rect x="861.86" y="1183.82" width="36.13" height="36.13" fill="#d7be9d"/>
<rect x="897.59" y="1183.82" width="36.13" height="36.13" fill="#d9c3a0"/>
<rect x="933.33" y="1183.82" width="36.13" height="36.13" fill="#ddcda5"/>
<rect x="969.06" y="1183.82" width="36.13" height="36.13" fill="#d0aa93"/>
<rect x="1004.79" y="1183.82" width="36.13" height="36.13" fill="#e8e7b3"/>
<rect x="683.20" y="1219.55" width="36.13" height="36.13" fill="#996464"/>
<rect x="718.93" y="1219.55" width="36.13" height="36.13" fill="#e3dbad"/>
<rect x="754.66" y="1219.55" width="36.13" height="36.13" fill="#dfd2a8"/>
<rect x="790.40" y="1219.55" width="36.13" height="36.13" fill="#e9e9b4"/>
<rect x="826.13" y="1219.55" width="36.13" height="36.13" fill="#ececbf"/>
<rect x="861.86" y="1219.55" width="36.13" height="36.13" fill="#e2d9ac"/>
<rect x="897.59" y="1219.55" width="36.13" height="36.13" fill="#d5b89a"/>
<rect x="933.33" y="1219.55" width="36.13" height="36.13" fill="#ebebbb"/>
<rect x="969.06" y="1219.55" width="36.13" height="36.13" fill="#d5b79a"/>
<rect x="1004.79" y="1219.55" width="36.13" height="36.13" fill="#ebebbb"/>
<rect x="1040.52" y="1219.55" width="36.13" height="36.13" fill="#e1d7aa"/>
<rect x="683.20" y="1255.29" width="36.13" height="36.13" fill="#b07373"/>
<rect x="718.93" y="1255.29" width="36.13" height="36.13" fill="#cda18f"/>
<rect x="754.66" y="1255.29" width="36.13" height="36.13" fill="#d3b197"/>
<rect x="790.40" y="1255.29" width="36.13" height="36.13" fill="#d4b498"/>
<rect x="826.13" y="1255.29" width="36.13" height="36.13" fill="#d9c3a0"/>
<rect x="861.86" y="1255.29" width="36.13" height="36.13" fill="#ddcda5"/>
<rect x="897.59" y="1255.29" width="36.13" height="36.13" fill="#dccba4"/>
<rect x="933.33" y="1255.29" width="36.13" height="36.13" fill="#e6e2b1"/>
<rect x="969.06" y="1255.29" width="36.13" height="36.13" fill="#d7be9d"/>
<rect x="1004.79" y="1255.29" width="36.13" height="36.13" fill="#e8e7b3"/>
<rect x="1040.52" y="1255.29" width="36.13" height="36.13" fill="#e4deae"/>
<rect x="1076.25" y="1255.29" width="36.13" height="36.13" fill="#e8e7b3"/>
<rect x="683.20" y="1291.02" width="36.13" height="36.18" fill="#9f6868"/>
<rect x="718.93" y="1291.02" width="36.13" height="36.18" fill="#ca998b"/>
<rect x="754.66" y="1291.02" width="36.13" height="36.18" fill="#ca998b"/>
<rect x="790.40" y="1291.02" width="36.13" height="36.18" fill="#ca998b"/>
<rect x="826.13" y="1291.02" width="36.13" height="36.18" fill="#cfa591"/>
<rect x="861.86" y="1291.02" width="36.13" height="36.18" fill="#cfa792"/>
<rect x="897.59" y="1291.02" width="36.13" height="36.18" fill="#d5b79a"/>
<rect x="933.33" y="1291.02" width="36.13" height="36.18" fill="#d6ba9b"/>
<rect x="969.06" y="1291.02" width="36.13" height="36.18" fill="#c68b85"/>
<rect x="1004.79" y="1291.02" width="36.13" height="36.18" fill="#d8c09f"/>
<rect x="1040.52" y="1291.02" width="36.13" height="36.18" fill="#d8bf9e"/>
<rect x="1076.25" y="1291.02" width="36.13" height="36.18" fill="#d6ba9b"/>
<rect x="1111.99" y="1291.02" width="36.13" height="36.18" fill="#e8e7b3"/>
<rect x="683.10" y="826.50" width="0.9" height="500.70" fill="rgba(40,40,40,0.36)"/>
<rect x="684.00" y="1326.30" width="499.45" height="0.9" fill="rgba(40,40,40,0.36)"/>
<text transform="translate(680.70,847.87) rotate(-45)" font-size="21.6" text-anchor="end" font-weight="normal" font-style="normal" fill="#000">AMG</text>
<text transform="translate(680.00,879.70) rotate(-45)" font-size="21.6" text-anchor="end" font-weight="normal" font-style="normal" fill="#000" textLength="95.3" lengthAdjust="spacingAndGlyphs">central V1</text>
<text transform="translate(680.00,913.73) rotate(-45)" font-size="21.6" text-anchor="end" font-weight="normal" font-style="normal" fill="#000" textLength="124.37" lengthAdjust="spacingAndGlyphs">peripheral V1</text>
<text transform="translate(680.00,956.36) rotate(-45)" font-size="21.6" text-anchor="end" font-weight="normal" font-style="normal" fill="#000">V2</text>
<text transform="translate(679.70,991.59) rotate(-45)" font-size="21.6" text-anchor="end" font-weight="normal" font-style="normal" fill="#000">V3</text>
<text transform="translate(679.70,1026.83) rotate(-45)" font-size="21.6" text-anchor="end" font-weight="normal" font-style="normal" fill="#000">hV4</text>
<text transform="translate(679.70,1062.56) rotate(-45)" font-size="21.6" text-anchor="end" font-weight="normal" font-style="normal" fill="#000">FFA</text>
<text transform="translate(679.70,1098.29) rotate(-45)" font-size="21.6" text-anchor="end" font-weight="normal" font-style="normal" fill="#000">VO</text>
<text transform="translate(679.70,1134.02) rotate(-45)" font-size="21.6" text-anchor="end" font-weight="normal" font-style="normal" fill="#000">PHC</text>
<text transform="translate(679.90,1170.26) rotate(-45)" font-size="21.6" text-anchor="end" font-weight="normal" font-style="normal" fill="#000">LO</text>
<text transform="translate(679.90,1205.69) rotate(-45)" font-size="21.6" text-anchor="end" font-weight="normal" font-style="normal" fill="#000">TO</text>
<text transform="translate(680.40,1239.22) rotate(-45)" font-size="21.6" text-anchor="end" font-weight="normal" font-style="normal" fill="#000">V3AB</text>
<text transform="translate(679.70,1276.65) rotate(-45)" font-size="21.6" text-anchor="end" font-weight="normal" font-style="normal" fill="#000">IPS0</text>
<text transform="translate(679.70,1310.88) rotate(-45)" font-size="21.6" text-anchor="end" font-weight="normal" font-style="normal" fill="#000">IPS1-5</text>
<text transform="translate(712.57,1340.85) rotate(-45)" font-size="21.6" text-anchor="end" font-weight="normal" font-style="normal" fill="#000">AMG</text>
<text transform="translate(752.40,1340.85) rotate(-45)" font-size="21.6" text-anchor="end" font-weight="normal" font-style="normal" fill="#000" textLength="95.89" lengthAdjust="spacingAndGlyphs">central V1</text>
<text transform="translate(790.73,1340.85) rotate(-45)" font-size="21.6" text-anchor="end" font-weight="normal" font-style="normal" fill="#000" textLength="123.99" lengthAdjust="spacingAndGlyphs">peripheral V1</text>
<text transform="translate(820.76,1340.85) rotate(-45)" font-size="21.6" text-anchor="end" font-weight="normal" font-style="normal" fill="#000">V2</text>
<text transform="translate(857.09,1340.85) rotate(-45)" font-size="21.6" text-anchor="end" font-weight="normal" font-style="normal" fill="#000">V3</text>
<text transform="translate(893.83,1340.85) rotate(-45)" font-size="21.6" text-anchor="end" font-weight="normal" font-style="normal" fill="#000">hV4</text>
<text transform="translate(930.56,1340.85) rotate(-45)" font-size="21.6" text-anchor="end" font-weight="normal" font-style="normal" fill="#000">FFA</text>
<text transform="translate(966.79,1340.85) rotate(-45)" font-size="21.6" text-anchor="end" font-weight="normal" font-style="normal" fill="#000">VO</text>
<text transform="translate(1003.02,1340.85) rotate(-45)" font-size="21.6" text-anchor="end" font-weight="normal" font-style="normal" fill="#000">PHC</text>
<text transform="translate(1037.76,1340.85) rotate(-45)" font-size="21.6" text-anchor="end" font-weight="normal" font-style="normal" fill="#000">LO</text>
<text transform="translate(1074.99,1340.85) rotate(-45)" font-size="21.6" text-anchor="end" font-weight="normal" font-style="normal" fill="#000">TO</text>
<text transform="translate(1113.32,1340.85) rotate(-45)" font-size="21.6" text-anchor="end" font-weight="normal" font-style="normal" fill="#000">V3AB</text>
<text transform="translate(1150.05,1340.85) rotate(-45)" font-size="21.6" text-anchor="end" font-weight="normal" font-style="normal" fill="#000">IPS0</text>
<text transform="translate(1186.28,1340.85) rotate(-45)" font-size="21.6" text-anchor="end" font-weight="normal" font-style="normal" fill="#000">IPS1-5</text>
<rect x="1331.30" y="862.23" width="36.13" height="36.13" fill="#ffaf00"/>
<rect x="1331.30" y="897.96" width="36.13" height="36.13" fill="#ffa300"/>
<rect x="1367.03" y="897.96" width="36.13" height="36.13" fill="#800000"/>
<rect x="1331.30" y="933.70" width="36.13" height="36.13" fill="#ffd000"/>
<rect x="1367.03" y="933.70" width="36.13" height="36.13" fill="#780000"/>
<rect x="1402.76" y="933.70" width="36.13" height="36.13" fill="#a00000"/>
<rect x="1331.30" y="969.43" width="36.13" height="36.13" fill="#ffff00"/>
<rect x="1367.03" y="969.43" width="36.13" height="36.13" fill="#780000"/>
<rect x="1402.76" y="969.43" width="36.13" height="36.13" fill="#f00000"/>
<rect x="1438.50" y="969.43" width="36.13" height="36.13" fill="#980000"/>
<rect x="1331.30" y="1005.16" width="36.13" height="36.13" fill="#ffff80"/>
<rect x="1367.03" y="1005.16" width="36.13" height="36.13" fill="#af0000"/>
<rect x="1402.76" y="1005.16" width="36.13" height="36.13" fill="#ff3200"/>
<rect x="1438.50" y="1005.16" width="36.13" height="36.13" fill="#ff1400"/>
<rect x="1474.23" y="1005.16" width="36.13" height="36.13" fill="#8c0000"/>
<rect x="1331.30" y="1040.89" width="36.13" height="36.13" fill="#ffff14"/>
<rect x="1367.03" y="1040.89" width="36.13" height="36.13" fill="#ff5500"/>
<rect x="1402.76" y="1040.89" width="36.13" height="36.13" fill="#ff1400"/>
<rect x="1438.50" y="1040.89" width="36.13" height="36.13" fill="#ff9600"/>
<rect x="1474.23" y="1040.89" width="36.13" height="36.13" fill="#ff8000"/>
<rect x="1509.96" y="1040.89" width="36.13" height="36.13" fill="#ff3200"/>
<rect x="1331.30" y="1076.62" width="36.13" height="36.13" fill="#ffff14"/>
<rect x="1367.03" y="1076.62" width="36.13" height="36.13" fill="#ff1400"/>
<rect x="1402.76" y="1076.62" width="36.13" height="36.13" fill="#ff0a00"/>
<rect x="1438.50" y="1076.62" width="36.13" height="36.13" fill="#ff5500"/>
<rect x="1474.23" y="1076.62" width="36.13" height="36.13" fill="#d20000"/>
<rect x="1509.96" y="1076.62" width="36.13" height="36.13" fill="#ff1e00"/>
<rect x="1545.69" y="1076.62" width="36.13" height="36.13" fill="#ffa500"/>
<rect x="1331.30" y="1112.36" width="36.13" height="36.13" fill="#ffff6e"/>
<rect x="1367.03" y="1112.36" width="36.13" height="36.13" fill="#ff2800"/>
<rect x="1402.76" y="1112.36" width="36.13" height="36.13" fill="#e10000"/>
<rect x="1438.50" y="1112.36" width="36.13" height="36.13" fill="#ff3200"/>
<rect x="1474.23" y="1112.36" width="36.13" height="36.13" fill="#ff1900"/>
<rect x="1509.96" y="1112.36" width="36.13" height="36.13" fill="#ff4100"/>
<rect x="1545.69" y="1112.36" width="36.13" height="36.13" fill="#ff1400"/>
<rect x="1581.42" y="1112.36" width="36.13" height="36.13" fill="#190000"/>
<rect x="1331.30" y="1148.09" width="36.13" height="36.13" fill="#ffaf00"/>
<rect x="1367.03" y="1148.09" width="36.13" height="36.13" fill="#be0000"/>
<rect x="1402.76" y="1148.09" width="36.13" height="36.13" fill="#ff2800"/>
<rect x="1438.50" y="1148.09" width="36.13" height="36.13" fill="#ff6400"/>
<rect x="1474.23" y="1148.09" width="36.13" height="36.13" fill="#f50000"/>
<rect x="1509.96" y="1148.09" width="36.13" height="36.13" fill="#be0000"/>
<rect x="1545.69" y="1148.09" width="36.13" height="36.13" fill="#be0000"/>
<rect x="1581.42" y="1148.09" width="36.13" height="36.13" fill="#6e0000"/>
<rect x="1617.16" y="1148.09" width="36.13" height="36.13" fill="#3c0000"/>
<rect x="1331.30" y="1183.82" width="36.13" height="36.13" fill="#ffffff"/>
<rect x="1367.03" y="1183.82" width="36.13" height="36.13" fill="#ff1900"/>
<rect x="1402.76" y="1183.82" width="36.13" height="36.13" fill="#fa0000"/>
<rect x="1438.50" y="1183.82" width="36.13" height="36.13" fill="#ff8000"/>
<rect x="1474.23" y="1183.82" width="36.13" height="36.13" fill="#ff8c00"/>
<rect x="1509.96" y="1183.82" width="36.13" height="36.13" fill="#ff8c00"/>
<rect x="1545.69" y="1183.82" width="36.13" height="36.13" fill="#ff8c00"/>
<rect x="1581.42" y="1183.82" width="36.13" height="36.13" fill="#ff4600"/>
<rect x="1617.16" y="1183.82" width="36.13" height="36.13" fill="#640000"/>
<rect x="1652.89" y="1183.82" width="36.13" height="36.13" fill="#ff6900"/>
<rect x="1331.30" y="1219.55" width="36.13" height="36.13" fill="#ffff5a"/>
<rect x="1367.03" y="1219.55" width="36.13" height="36.13" fill="#e60000"/>
<rect x="1402.76" y="1219.55" width="36.13" height="36.13" fill="#e60000"/>
<rect x="1438.50" y="1219.55" width="36.13" height="36.13" fill="#f00000"/>
<rect x="1474.23" y="1219.55" width="36.13" height="36.13" fill="#f00000"/>
<rect x="1509.96" y="1219.55" width="36.13" height="36.13" fill="#ff3700"/>
<rect x="1545.69" y="1219.55" width="36.13" height="36.13" fill="#ff1900"/>
<rect x="1581.42" y="1219.55" width="36.13" height="36.13" fill="#5a0000"/>
<rect x="1617.16" y="1219.55" width="36.13" height="36.13" fill="#0f0000"/>
<rect x="1652.89" y="1219.55" width="36.13" height="36.13" fill="#ff1e00"/>
<rect x="1688.62" y="1219.55" width="36.13" height="36.13" fill="#ff6e00"/>
<rect x="1331.30" y="1255.29" width="36.13" height="36.13" fill="#ff3700"/>
<rect x="1367.03" y="1255.29" width="36.13" height="36.13" fill="#ff7800"/>
<rect x="1402.76" y="1255.29" width="36.13" height="36.13" fill="#3c0000"/>
<rect x="1438.50" y="1255.29" width="36.13" height="36.13" fill="#ff3c00"/>
<rect x="1474.23" y="1255.29" width="36.13" height="36.13" fill="#ff1e00"/>
<rect x="1509.96" y="1255.29" width="36.13" height="36.13" fill="#ff5500"/>
<rect x="1545.69" y="1255.29" width="36.13" height="36.13" fill="#ff6900"/>
<rect x="1581.42" y="1255.29" width="36.13" height="36.13" fill="#460000"/>
<rect x="1617.16" y="1255.29" width="36.13" height="36.13" fill="#0f0000"/>
<rect x="1652.89" y="1255.29" width="36.13" height="36.13" fill="#d70000"/>
<rect x="1688.62" y="1255.29" width="36.13" height="36.13" fill="#c80000"/>
<rect x="1724.35" y="1255.29" width="36.13" height="36.13" fill="#690000"/>
<rect x="1331.30" y="1291.02" width="36.13" height="36.18" fill="#ff5a00"/>
<rect x="1367.03" y="1291.02" width="36.13" height="36.18" fill="#5a0000"/>
<rect x="1402.76" y="1291.02" width="36.13" height="36.18" fill="#140000"/>
<rect x="1438.50" y="1291.02" width="36.13" height="36.18" fill="#be0000"/>
<rect x="1474.23" y="1291.02" width="36.13" height="36.18" fill="#ff3700"/>
<rect x="1509.96" y="1291.02" width="36.13" height="36.18" fill="#ff8200"/>
<rect x="1545.69" y="1291.02" width="36.13" height="36.18" fill="#ff8c00"/>
<rect x="1581.42" y="1291.02" width="36.13" height="36.18" fill="#730000"/>
<rect x="1617.16" y="1291.02" width="36.13" height="36.18" fill="#b40000"/>
<rect x="1652.89" y="1291.02" width="36.13" height="36.18" fill="#e10000"/>
<rect x="1688.62" y="1291.02" width="36.13" height="36.18" fill="#ff0f00"/>
<rect x="1724.35" y="1291.02" width="36.13" height="36.18" fill="#d20000"/>
<rect x="1760.09" y="1291.02" width="36.13" height="36.18" fill="#d20000"/>
<rect x="1331.20" y="826.50" width="0.9" height="500.70" fill="rgba(40,40,40,0.36)"/>
<rect x="1332.10" y="1326.30" width="499.45" height="0.9" fill="rgba(40,40,40,0.36)"/>
<text transform="translate(1327.50,847.87) rotate(-45)" font-size="21.6" text-anchor="end" font-weight="normal" font-style="normal" fill="#000">AMG</text>
<text transform="translate(1326.80,879.70) rotate(-45)" font-size="21.6" text-anchor="end" font-weight="normal" font-style="normal" fill="#000" textLength="95.3" lengthAdjust="spacingAndGlyphs">central V1</text>
<text transform="translate(1326.80,913.73) rotate(-45)" font-size="21.6" text-anchor="end" font-weight="normal" font-style="normal" fill="#000" textLength="124.37" lengthAdjust="spacingAndGlyphs">peripheral V1</text>
<text transform="translate(1326.80,956.36) rotate(-45)" font-size="21.6" text-anchor="end" font-weight="normal" font-style="normal" fill="#000">V2</text>
<text transform="translate(1326.50,991.59) rotate(-45)" font-size="21.6" text-anchor="end" font-weight="normal" font-style="normal" fill="#000">V3</text>
<text transform="translate(1326.50,1026.83) rotate(-45)" font-size="21.6" text-anchor="end" font-weight="normal" font-style="normal" fill="#000">hV4</text>
<text transform="translate(1326.50,1062.56) rotate(-45)" font-size="21.6" text-anchor="end" font-weight="normal" font-style="normal" fill="#000">FFA</text>
<text transform="translate(1326.50,1098.29) rotate(-45)" font-size="21.6" text-anchor="end" font-weight="normal" font-style="normal" fill="#000">VO</text>
<text transform="translate(1326.50,1134.02) rotate(-45)" font-size="21.6" text-anchor="end" font-weight="normal" font-style="normal" fill="#000">PHC</text>
<text transform="translate(1326.70,1170.26) rotate(-45)" font-size="21.6" text-anchor="end" font-weight="normal" font-style="normal" fill="#000">LO</text>
<text transform="translate(1326.70,1205.69) rotate(-45)" font-size="21.6" text-anchor="end" font-weight="normal" font-style="normal" fill="#000">TO</text>
<text transform="translate(1327.20,1239.22) rotate(-45)" font-size="21.6" text-anchor="end" font-weight="normal" font-style="normal" fill="#000">V3AB</text>
<text transform="translate(1326.50,1276.65) rotate(-45)" font-size="21.6" text-anchor="end" font-weight="normal" font-style="normal" fill="#000">IPS0</text>
<text transform="translate(1326.50,1310.88) rotate(-45)" font-size="21.6" text-anchor="end" font-weight="normal" font-style="normal" fill="#000">IPS1-5</text>
<text transform="translate(1365.87,1340.85) rotate(-45)" font-size="21.6" text-anchor="end" font-weight="normal" font-style="normal" fill="#000">AMG</text>
<text transform="translate(1405.70,1340.85) rotate(-45)" font-size="21.6" text-anchor="end" font-weight="normal" font-style="normal" fill="#000" textLength="95.89" lengthAdjust="spacingAndGlyphs">central V1</text>
<text transform="translate(1444.03,1340.85) rotate(-45)" font-size="21.6" text-anchor="end" font-weight="normal" font-style="normal" fill="#000" textLength="123.99" lengthAdjust="spacingAndGlyphs">peripheral V1</text>
<text transform="translate(1474.06,1340.85) rotate(-45)" font-size="21.6" text-anchor="end" font-weight="normal" font-style="normal" fill="#000">V2</text>
<text transform="translate(1510.39,1340.85) rotate(-45)" font-size="21.6" text-anchor="end" font-weight="normal" font-style="normal" fill="#000">V3</text>
<text transform="translate(1547.13,1340.85) rotate(-45)" font-size="21.6" text-anchor="end" font-weight="normal" font-style="normal" fill="#000">hV4</text>
<text transform="translate(1583.86,1340.85) rotate(-45)" font-size="21.6" text-anchor="end" font-weight="normal" font-style="normal" fill="#000">FFA</text>
<text transform="translate(1620.09,1340.85) rotate(-45)" font-size="21.6" text-anchor="end" font-weight="normal" font-style="normal" fill="#000">VO</text>
<text transform="translate(1656.32,1340.85) rotate(-45)" font-size="21.6" text-anchor="end" font-weight="normal" font-style="normal" fill="#000">PHC</text>
<text transform="translate(1691.06,1340.85) rotate(-45)" font-size="21.6" text-anchor="end" font-weight="normal" font-style="normal" fill="#000">LO</text>
<text transform="translate(1728.29,1340.85) rotate(-45)" font-size="21.6" text-anchor="end" font-weight="normal" font-style="normal" fill="#000">TO</text>
<text transform="translate(1766.62,1340.85) rotate(-45)" font-size="21.6" text-anchor="end" font-weight="normal" font-style="normal" fill="#000">V3AB</text>
<text transform="translate(1803.35,1340.85) rotate(-45)" font-size="21.6" text-anchor="end" font-weight="normal" font-style="normal" fill="#000">IPS0</text>
<text transform="translate(1839.58,1340.85) rotate(-45)" font-size="21.6" text-anchor="end" font-weight="normal" font-style="normal" fill="#000">IPS1-5</text>
<text x="1349.4" y="904.7" font-size="40" text-anchor="middle" font-weight="normal" font-style="normal" fill="#000" stroke="#000" stroke-width="0.6">*</text>
<text x="1349.4" y="940.0" font-size="40" text-anchor="middle" font-weight="normal" font-style="normal" fill="#000" stroke="#000" stroke-width="0.6">*</text>
<text x="1349.4" y="975.3" font-size="40" text-anchor="middle" font-weight="normal" font-style="normal" fill="#000" stroke="#000" stroke-width="0.6">*</text>
<text x="1349.4" y="1010.6" font-size="40" text-anchor="middle" font-weight="normal" font-style="normal" fill="#000" stroke="#000" stroke-width="0.6">*</text>
<text x="1349.4" y="1045.9" font-size="40" text-anchor="middle" font-weight="normal" font-style="normal" fill="#000" stroke="#000" stroke-width="0.6">*</text>
<text x="1349.4" y="1081.3" font-size="40" text-anchor="middle" font-weight="normal" font-style="normal" fill="#000" stroke="#000" stroke-width="0.6">*</text>
<text x="1349.4" y="1116.6" font-size="40" text-anchor="middle" font-weight="normal" font-style="normal" fill="#000" stroke="#000" stroke-width="0.6">*</text>
<text x="1349.4" y="1151.9" font-size="40" text-anchor="middle" font-weight="normal" font-style="normal" fill="#000" stroke="#000" stroke-width="0.6">*</text>
<text x="1349.4" y="1175.5" font-size="28.5" text-anchor="middle" font-weight="bold" font-style="italic" fill="#000">†</text>
<text x="1349.4" y="1222.5" font-size="40" text-anchor="middle" font-weight="normal" font-style="normal" fill="#000" stroke="#000" stroke-width="0.6">*</text>
<text x="1349.4" y="1257.8" font-size="40" text-anchor="middle" font-weight="normal" font-style="normal" fill="#000" stroke="#000" stroke-width="0.6">*</text>
<text x="1562.5" y="1116.6" font-size="40" text-anchor="middle" font-weight="normal" font-style="normal" fill="#000" stroke="#000" stroke-width="0.6">*</text>
<text x="1103.8" y="863.7" font-size="23.7" text-anchor="end" font-weight="normal" font-style="italic" fill="#000">all squares: P &lt; 0.05</text>
<text x="1105.4" y="893.8" font-size="23.7" text-anchor="end" font-weight="normal" font-style="italic" fill="#000">(Bonferroni corrected)</text>
<defs><linearGradient id="gpink869" x1="0" y1="0" x2="0" y2="1"><stop offset="0.0000" stop-color="#ffffff"/><stop offset="0.0312" stop-color="#fcfcf7"/><stop offset="0.0625" stop-color="#fafaef"/><stop offset="0.0938" stop-color="#f7f7e6"/><stop offset="0.1250" stop-color="#f4f4dd"/><stop offset="0.1562" stop-color="#f1f1d3"/><stop offset="0.1875" stop-color="#efefca"/><stop offset="0.2188" stop-color="#ececbf"/><stop offset="0.2500" stop-color="#e9e9b4"/><stop offset="0.2812" stop-color="#e6e2b1"/><stop offset="0.3125" stop-color="#e3dbad"/><stop offset="0.3438" stop-color="#e0d3a9"/><stop offset="0.3750" stop-color="#ddcca5"/><stop offset="0.4062" stop-color="#dac4a0"/><stop offset="0.4375" stop-color="#d7bc9c"/><stop offset="0.4688" stop-color="#d3b398"/><stop offset="0.5000" stop-color="#d0aa93"/><stop offset="0.5312" stop-color="#cda08f"/><stop offset="0.5625" stop-color="#ca968a"/><stop offset="0.5938" stop-color="#c68b85"/><stop offset="0.6250" stop-color="#c38080"/><stop offset="0.6562" stop-color="#ba7a7a"/><stop offset="0.6875" stop-color="#b27474"/><stop offset="0.7188" stop-color="#a96e6e"/><stop offset="0.7500" stop-color="#9f6868"/><stop offset="0.7812" stop-color="#956161"/><stop offset="0.8125" stop-color="#8a5a5a"/><stop offset="0.8438" stop-color="#7e5252"/><stop offset="0.8750" stop-color="#704a4a"/><stop offset="0.9062" stop-color="#614040"/><stop offset="0.9375" stop-color="#503434"/><stop offset="0.9688" stop-color="#382525"/><stop offset="1.0000" stop-color="#000000"/></linearGradient></defs>
<rect x="1137.8" y="869.6" width="20.6" height="253.5" fill="url(#gpink869)" stroke="#666" stroke-width="1.1"/>
<text x="1148.1" y="863.3000000000001" font-size="20.3" text-anchor="middle" font-weight="normal" font-style="normal" fill="#000">1</text>
<text x="1148.1" y="1144.1" font-size="20.3" text-anchor="middle" font-weight="normal" font-style="normal" fill="#000">0</text>
<text transform="translate(1171.30,995.35) rotate(90)" font-size="19.8" text-anchor="middle" font-weight="normal" font-style="normal" fill="#000">correlation coeffifient</text>
<text x="1743.8" y="863.5" font-size="23.7" text-anchor="end" font-weight="normal" font-style="italic" fill="#000">P &lt; 0.1</text>
<text x="1662.6" y="853.8" font-size="26" text-anchor="middle" font-weight="normal" font-style="italic" fill="#000" stroke="#000" stroke-width="0.3">†</text>
<text x="1553.0" y="863.5" font-size="23.7" text-anchor="start" font-weight="normal" font-style="italic" fill="#000">P &lt; 0.05,</text>
<text x="1545.5" y="861.0" font-size="38" text-anchor="middle" font-weight="normal" font-style="normal" fill="#000" stroke="#000" stroke-width="0.4">*</text>
<text x="1745.2" y="893.8" font-size="23.7" text-anchor="end" font-weight="normal" font-style="italic" fill="#000">(Bonferroni corrected)</text>
<defs><linearGradient id="ghot869" x1="0" y1="0" x2="0" y2="1"><stop offset="0.0000" stop-color="#ffffff"/><stop offset="0.0312" stop-color="#ffffdf"/><stop offset="0.0625" stop-color="#ffffbf"/><stop offset="0.0938" stop-color="#ffff9f"/><stop offset="0.1250" stop-color="#ffff80"/><stop offset="0.1562" stop-color="#ffff60"/><stop offset="0.1875" stop-color="#ffff40"/><stop offset="0.2188" stop-color="#ffff20"/><stop offset="0.2500" stop-color="#ffff00"/><stop offset="0.2812" stop-color="#ffea00"/><stop offset="0.3125" stop-color="#ffd400"/><stop offset="0.3438" stop-color="#ffbf00"/><stop offset="0.3750" stop-color="#ffaa00"/><stop offset="0.4062" stop-color="#ff9500"/><stop offset="0.4375" stop-color="#ff8000"/><stop offset="0.4688" stop-color="#ff6a00"/><stop offset="0.5000" stop-color="#ff5500"/><stop offset="0.5312" stop-color="#ff4000"/><stop offset="0.5625" stop-color="#ff2a00"/><stop offset="0.5938" stop-color="#ff1500"/><stop offset="0.6250" stop-color="#ff0000"/><stop offset="0.6562" stop-color="#ea0000"/><stop offset="0.6875" stop-color="#d40000"/><stop offset="0.7188" stop-color="#bf0000"/><stop offset="0.7500" stop-color="#aa0000"/><stop offset="0.7812" stop-color="#950000"/><stop offset="0.8125" stop-color="#800000"/><stop offset="0.8438" stop-color="#6a0000"/><stop offset="0.8750" stop-color="#550000"/><stop offset="0.9062" stop-color="#400000"/><stop offset="0.9375" stop-color="#2a0000"/><stop offset="0.9688" stop-color="#150000"/><stop offset="1.0000" stop-color="#000000"/></linearGradient></defs>
<rect x="1782.9" y="869.6" width="20.3" height="253.5" fill="url(#ghot869)" stroke="#666" stroke-width="1.1"/>
<text x="1793.0500000000002" y="863.3000000000001" font-size="20.3" text-anchor="middle" font-weight="normal" font-style="normal" fill="#000">0.07</text>
<text x="1793.0500000000002" y="1144.1" font-size="20.3" text-anchor="middle" font-weight="normal" font-style="normal" fill="#000">-0.02</text>
<text transform="translate(1816.60,995.35) rotate(90)" font-size="19.8" text-anchor="middle" font-weight="normal" font-style="normal" fill="#000">difference in correlation</text>
<rect x="3.5" y="1523.2" width="1202.1" height="632.1" fill="none" stroke="#333" stroke-width="1.1"/>
<rect x="1220.5" y="1523.2" width="629" height="632.1" fill="none" stroke="#333" stroke-width="1.1"/>
<text x="-2.2" y="1502.5" font-size="55.5" text-anchor="start" font-weight="bold" font-style="normal" fill="#000">c</text>
<text x="337.5" y="1503.4" font-size="35.2" text-anchor="middle" font-weight="bold" font-style="italic" fill="#000">Happy</text>
<text x="918.7" y="1503.4" font-size="35.2" text-anchor="middle" font-weight="bold" font-style="italic" fill="#000">Neutral</text>
<text x="1565.5" y="1503.4" font-size="35.2" text-anchor="middle" font-weight="bold" font-style="italic" fill="#000">Positive valence effect</text>
<rect x="640.3" y="1488.3" width="24.2" height="4.2" fill="#000"/>
<rect x="1202" y="1482.7" width="25" height="4" fill="#000"/>
<rect x="1202" y="1494.2" width="25" height="4" fill="#000"/>
<rect x="110.30" y="1573.93" width="36.13" height="36.13" fill="#8c5c5c"/>
<rect x="110.30" y="1609.66" width="36.13" height="36.13" fill="#9f6868"/>
<rect x="146.03" y="1609.66" width="36.13" height="36.13" fill="#eaeab8"/>
<rect x="110.30" y="1645.40" width="36.13" height="36.13" fill="#996464"/>
<rect x="146.03" y="1645.40" width="36.13" height="36.13" fill="#f7f7e7"/>
<rect x="181.76" y="1645.40" width="36.13" height="36.13" fill="#e9e9b4"/>
<rect x="110.30" y="1681.13" width="36.13" height="36.13" fill="#986363"/>
<rect x="146.03" y="1681.13" width="36.13" height="36.13" fill="#f5f5de"/>
<rect x="181.76" y="1681.13" width="36.13" height="36.13" fill="#e2d9ac"/>
<rect x="217.50" y="1681.13" width="36.13" height="36.13" fill="#f9f9ec"/>
<rect x="110.30" y="1716.86" width="36.13" height="36.13" fill="#9c6666"/>
<rect x="146.03" y="1716.86" width="36.13" height="36.13" fill="#e3dbad"/>
<rect x="181.76" y="1716.86" width="36.13" height="36.13" fill="#d8c09f"/>
<rect x="217.50" y="1716.86" width="36.13" height="36.13" fill="#e9e9b4"/>
<rect x="253.23" y="1716.86" width="36.13" height="36.13" fill="#f2f2d5"/>
<rect x="110.30" y="1752.59" width="36.13" height="36.13" fill="#ae7272"/>
<rect x="146.03" y="1752.59" width="36.13" height="36.13" fill="#d4b498"/>
<rect x="181.76" y="1752.59" width="36.13" height="36.13" fill="#cb9c8c"/>
<rect x="217.50" y="1752.59" width="36.13" height="36.13" fill="#d5b79a"/>
<rect x="253.23" y="1752.59" width="36.13" height="36.13" fill="#ddcda5"/>
<rect x="288.96" y="1752.59" width="36.13" height="36.13" fill="#e3dbad"/>
<rect x="110.30" y="1788.33" width="36.13" height="36.13" fill="#a06969"/>
<rect x="146.03" y="1788.33" width="36.13" height="36.13" fill="#d7bc9d"/>
<rect x="181.76" y="1788.33" width="36.13" height="36.13" fill="#d8c09f"/>
<rect x="217.50" y="1788.33" width="36.13" height="36.13" fill="#dccba4"/>
<rect x="253.23" y="1788.33" width="36.13" height="36.13" fill="#e3dbad"/>
<rect x="288.96" y="1788.33" width="36.13" height="36.13" fill="#e9e9b4"/>
<rect x="324.69" y="1788.33" width="36.13" height="36.13" fill="#d9c3a0"/>
<rect x="110.30" y="1824.06" width="36.13" height="36.13" fill="#986363"/>
<rect x="146.03" y="1824.06" width="36.13" height="36.13" fill="#b57777"/>
<rect x="181.76" y="1824.06" width="36.13" height="36.13" fill="#ca998b"/>
<rect x="217.50" y="1824.06" width="36.13" height="36.13" fill="#c58783"/>
<rect x="253.23" y="1824.06" width="36.13" height="36.13" fill="#c89288"/>
<rect x="288.96" y="1824.06" width="36.13" height="36.13" fill="#cb9c8c"/>
<rect x="324.69" y="1824.06" width="36.13" height="36.13" fill="#c48582"/>
<rect x="360.42" y="1824.06" width="36.13" height="36.13" fill="#e2d9ac"/>
<rect x="110.30" y="1859.79" width="36.13" height="36.13" fill="#a36b6b"/>
<rect x="146.03" y="1859.79" width="36.13" height="36.13" fill="#ddcda5"/>
<rect x="181.76" y="1859.79" width="36.13" height="36.13" fill="#d3b197"/>
<rect x="217.50" y="1859.79" width="36.13" height="36.13" fill="#e2d9ac"/>
<rect x="253.23" y="1859.79" width="36.13" height="36.13" fill="#ececbf"/>
<rect x="288.96" y="1859.79" width="36.13" height="36.13" fill="#ebebbb"/>
<rect x="324.69" y="1859.79" width="36.13" height="36.13" fill="#e7e4b2"/>
<rect x="360.42" y="1859.79" width="36.13" height="36.13" fill="#eaeab8"/>
<rect x="396.16" y="1859.79" width="36.13" height="36.13" fill="#d2ae95"/>
<rect x="110.30" y="1895.52" width="36.13" height="36.13" fill="#b07373"/>
<rect x="146.03" y="1895.52" width="36.13" height="36.13" fill="#cea490"/>
<rect x="181.76" y="1895.52" width="36.13" height="36.13" fill="#d0aa93"/>
<rect x="217.50" y="1895.52" width="36.13" height="36.13" fill="#d7be9d"/>
<rect x="253.23" y="1895.52" width="36.13" height="36.13" fill="#dac6a1"/>
<rect x="288.96" y="1895.52" width="36.13" height="36.13" fill="#d7be9d"/>
<rect x="324.69" y="1895.52" width="36.13" height="36.13" fill="#d9c3a0"/>
<rect x="360.42" y="1895.52" width="36.13" height="36.13" fill="#ddcda5"/>
<rect x="396.16" y="1895.52" width="36.13" height="36.13" fill="#d0aa93"/>
<rect x="431.89" y="1895.52" width="36.13" height="36.13" fill="#e8e7b3"/>
<rect x="110.30" y="1931.25" width="36.13" height="36.13" fill="#996464"/>
<rect x="146.03" y="1931.25" width="36.13" height="36.13" fill="#e3dbad"/>
<rect x="181.76" y="1931.25" width="36.13" height="36.13" fill="#dfd2a8"/>
<rect x="217.50" y="1931.25" width="36.13" height="36.13" fill="#e9e9b4"/>
<rect x="253.23" y="1931.25" width="36.13" height="36.13" fill="#ececbf"/>
<rect x="288.96" y="1931.25" width="36.13" height="36.13" fill="#e2d9ac"/>
<rect x="324.69" y="1931.25" width="36.13" height="36.13" fill="#d5b89a"/>
<rect x="360.42" y="1931.25" width="36.13" height="36.13" fill="#ebebbb"/>
<rect x="396.16" y="1931.25" width="36.13" height="36.13" fill="#d5b79a"/>
<rect x="431.89" y="1931.25" width="36.13" height="36.13" fill="#ebebbb"/>
<rect x="467.62" y="1931.25" width="36.13" height="36.13" fill="#e1d7aa"/>
<rect x="110.30" y="1966.99" width="36.13" height="36.13" fill="#b07373"/>
<rect x="146.03" y="1966.99" width="36.13" height="36.13" fill="#cda18f"/>
<rect x="181.76" y="1966.99" width="36.13" height="36.13" fill="#d3b197"/>
<rect x="217.50" y="1966.99" width="36.13" height="36.13" fill="#d4b498"/>
<rect x="253.23" y="1966.99" width="36.13" height="36.13" fill="#d9c3a0"/>
<rect x="288.96" y="1966.99" width="36.13" height="36.13" fill="#ddcda5"/>
<rect x="324.69" y="1966.99" width="36.13" height="36.13" fill="#dccba4"/>
<rect x="360.42" y="1966.99" width="36.13" height="36.13" fill="#e6e2b1"/>
<rect x="396.16" y="1966.99" width="36.13" height="36.13" fill="#d7be9d"/>
<rect x="431.89" y="1966.99" width="36.13" height="36.13" fill="#e8e7b3"/>
<rect x="467.62" y="1966.99" width="36.13" height="36.13" fill="#e4deae"/>
<rect x="503.35" y="1966.99" width="36.13" height="36.13" fill="#e8e7b3"/>
<rect x="110.30" y="2002.72" width="36.13" height="36.18" fill="#9f6868"/>
<rect x="146.03" y="2002.72" width="36.13" height="36.18" fill="#ca998b"/>
<rect x="181.76" y="2002.72" width="36.13" height="36.18" fill="#ca998b"/>
<rect x="217.50" y="2002.72" width="36.13" height="36.18" fill="#ca998b"/>
<rect x="253.23" y="2002.72" width="36.13" height="36.18" fill="#cfa591"/>
<rect x="288.96" y="2002.72" width="36.13" height="36.18" fill="#cfa792"/>
<rect x="324.69" y="2002.72" width="36.13" height="36.18" fill="#d5b79a"/>
<rect x="360.42" y="2002.72" width="36.13" height="36.18" fill="#d6ba9b"/>
<rect x="396.16" y="2002.72" width="36.13" height="36.18" fill="#c68b85"/>
<rect x="431.89" y="2002.72" width="36.13" height="36.18" fill="#d8c09f"/>
<rect x="467.62" y="2002.72" width="36.13" height="36.18" fill="#d8bf9e"/>
<rect x="503.35" y="2002.72" width="36.13" height="36.18" fill="#d6ba9b"/>
<rect x="539.09" y="2002.72" width="36.13" height="36.18" fill="#e8e7b3"/>
<rect x="110.20" y="1538.20" width="0.9" height="500.70" fill="rgba(40,40,40,0.36)"/>
<text transform="translate(107.80,1559.57) rotate(-45)" font-size="21.6" text-anchor="end" font-weight="normal" font-style="normal" fill="#000">AMG</text>
<text transform="translate(107.10,1591.40) rotate(-45)" font-size="21.6" text-anchor="end" font-weight="normal" font-style="normal" fill="#000" textLength="95.3" lengthAdjust="spacingAndGlyphs">central V1</text>
<text transform="translate(107.10,1625.43) rotate(-45)" font-size="21.6" text-anchor="end" font-weight="normal" font-style="normal" fill="#000" textLength="124.37" lengthAdjust="spacingAndGlyphs">peripheral V1</text>
<text transform="translate(107.10,1668.06) rotate(-45)" font-size="21.6" text-anchor="end" font-weight="normal" font-style="normal" fill="#000">V2</text>
<text transform="translate(106.80,1703.29) rotate(-45)" font-size="21.6" text-anchor="end" font-weight="normal" font-style="normal" fill="#000">V3</text>
<text transform="translate(106.80,1738.53) rotate(-45)" font-size="21.6" text-anchor="end" font-weight="normal" font-style="normal" fill="#000">hV4</text>
<text transform="translate(106.80,1774.26) rotate(-45)" font-size="21.6" text-anchor="end" font-weight="normal" font-style="normal" fill="#000">FFA</text>
<text transform="translate(106.80,1809.99) rotate(-45)" font-size="21.6" text-anchor="end" font-weight="normal" font-style="normal" fill="#000">VO</text>
<text transform="translate(106.80,1845.72) rotate(-45)" font-size="21.6" text-anchor="end" font-weight="normal" font-style="normal" fill="#000">PHC</text>
<text transform="translate(107.00,1881.96) rotate(-45)" font-size="21.6" text-anchor="end" font-weight="normal" font-style="normal" fill="#000">LO</text>
<text transform="translate(107.00,1917.39) rotate(-45)" font-size="21.6" text-anchor="end" font-weight="normal" font-style="normal" fill="#000">TO</text>
<text transform="translate(107.50,1950.92) rotate(-45)" font-size="21.6" text-anchor="end" font-weight="normal" font-style="normal" fill="#000">V3AB</text>
<text transform="translate(106.80,1988.35) rotate(-45)" font-size="21.6" text-anchor="end" font-weight="normal" font-style="normal" fill="#000">IPS0</text>
<text transform="translate(106.80,2022.58) rotate(-45)" font-size="21.6" text-anchor="end" font-weight="normal" font-style="normal" fill="#000">IPS1-5</text>
<text transform="translate(138.07,2052.95) rotate(-45)" font-size="21.6" text-anchor="end" font-weight="normal" font-style="normal" fill="#000">AMG</text>
<text transform="translate(169.52,2061.33) rotate(-45)" font-size="21.6" text-anchor="end" font-weight="normal" font-style="normal" fill="#000" textLength="84.04" lengthAdjust="spacingAndGlyphs">central V</text>
<text transform="translate(208.03,2061.15) rotate(-45)" font-size="21.6" text-anchor="end" font-weight="normal" font-style="normal" fill="#000" textLength="112.39" lengthAdjust="spacingAndGlyphs">peripheral V</text>
<text transform="translate(246.26,2052.95) rotate(-45)" font-size="21.6" text-anchor="end" font-weight="normal" font-style="normal" fill="#000">V2</text>
<text transform="translate(282.59,2052.95) rotate(-45)" font-size="21.6" text-anchor="end" font-weight="normal" font-style="normal" fill="#000">V3</text>
<text transform="translate(319.33,2052.95) rotate(-45)" font-size="21.6" text-anchor="end" font-weight="normal" font-style="normal" fill="#000">hV4</text>
<text transform="translate(356.06,2052.95) rotate(-45)" font-size="21.6" text-anchor="end" font-weight="normal" font-style="normal" fill="#000">FFA</text>
<text transform="translate(392.29,2052.95) rotate(-45)" font-size="21.6" text-anchor="end" font-weight="normal" font-style="normal" fill="#000">VO</text>
<text transform="translate(428.52,2052.95) rotate(-45)" font-size="21.6" text-anchor="end" font-weight="normal" font-style="normal" fill="#000">PHC</text>
<text transform="translate(463.26,2052.95) rotate(-45)" font-size="21.6" text-anchor="end" font-weight="normal" font-style="normal" fill="#000">LO</text>
<text transform="translate(500.49,2052.95) rotate(-45)" font-size="21.6" text-anchor="end" font-weight="normal" font-style="normal" fill="#000">TO</text>
<text transform="translate(538.82,2052.95) rotate(-45)" font-size="21.6" text-anchor="end" font-weight="normal" font-style="normal" fill="#000">V3AB</text>
<text transform="translate(575.55,2052.95) rotate(-45)" font-size="21.6" text-anchor="end" font-weight="normal" font-style="normal" fill="#000">IPS0</text>
<text transform="translate(611.78,2052.95) rotate(-45)" font-size="21.6" text-anchor="end" font-weight="normal" font-style="normal" fill="#000">IPS1-5</text>
<rect x="683.30" y="1573.93" width="36.13" height="36.13" fill="#8c5c5c"/>
<rect x="683.30" y="1609.66" width="36.13" height="36.13" fill="#9f6868"/>
<rect x="719.03" y="1609.66" width="36.13" height="36.13" fill="#eaeab8"/>
<rect x="683.30" y="1645.40" width="36.13" height="36.13" fill="#996464"/>
<rect x="719.03" y="1645.40" width="36.13" height="36.13" fill="#f7f7e7"/>
<rect x="754.76" y="1645.40" width="36.13" height="36.13" fill="#e9e9b4"/>
<rect x="683.30" y="1681.13" width="36.13" height="36.13" fill="#986363"/>
<rect x="719.03" y="1681.13" width="36.13" height="36.13" fill="#f5f5de"/>
<rect x="754.76" y="1681.13" width="36.13" height="36.13" fill="#e2d9ac"/>
<rect x="790.50" y="1681.13" width="36.13" height="36.13" fill="#f9f9ec"/>
<rect x="683.30" y="1716.86" width="36.13" height="36.13" fill="#9c6666"/>
<rect x="719.03" y="1716.86" width="36.13" height="36.13" fill="#e3dbad"/>
<rect x="754.76" y="1716.86" width="36.13" height="36.13" fill="#d8c09f"/>
<rect x="790.50" y="1716.86" width="36.13" height="36.13" fill="#e9e9b4"/>
<rect x="826.23" y="1716.86" width="36.13" height="36.13" fill="#f2f2d5"/>
<rect x="683.30" y="1752.59" width="36.13" height="36.13" fill="#ae7272"/>
<rect x="719.03" y="1752.59" width="36.13" height="36.13" fill="#d4b498"/>
<rect x="754.76" y="1752.59" width="36.13" height="36.13" fill="#cb9c8c"/>
<rect x="790.50" y="1752.59" width="36.13" height="36.13" fill="#d5b79a"/>
<rect x="826.23" y="1752.59" width="36.13" height="36.13" fill="#ddcda5"/>
<rect x="861.96" y="1752.59" width="36.13" height="36.13" fill="#e3dbad"/>
<rect x="683.30" y="1788.33" width="36.13" height="36.13" fill="#a06969"/>
<rect x="719.03" y="1788.33" width="36.13" height="36.13" fill="#d7bc9d"/>
<rect x="754.76" y="1788.33" width="36.13" height="36.13" fill="#d8c09f"/>
<rect x="790.50" y="1788.33" width="36.13" height="36.13" fill="#dccba4"/>
<rect x="826.23" y="1788.33" width="36.13" height="36.13" fill="#e3dbad"/>
<rect x="861.96" y="1788.33" width="36.13" height="36.13" fill="#e9e9b4"/>
<rect x="897.69" y="1788.33" width="36.13" height="36.13" fill="#d9c3a0"/>
<rect x="683.30" y="1824.06" width="36.13" height="36.13" fill="#986363"/>
<rect x="719.03" y="1824.06" width="36.13" height="36.13" fill="#b57777"/>
<rect x="754.76" y="1824.06" width="36.13" height="36.13" fill="#ca998b"/>
<rect x="790.50" y="1824.06" width="36.13" height="36.13" fill="#c58783"/>
<rect x="826.23" y="1824.06" width="36.13" height="36.13" fill="#c89288"/>
<rect x="861.96" y="1824.06" width="36.13" height="36.13" fill="#cb9c8c"/>
<rect x="897.69" y="1824.06" width="36.13" height="36.13" fill="#c48582"/>
<rect x="933.42" y="1824.06" width="36.13" height="36.13" fill="#e2d9ac"/>
<rect x="683.30" y="1859.79" width="36.13" height="36.13" fill="#a36b6b"/>
<rect x="719.03" y="1859.79" width="36.13" height="36.13" fill="#ddcda5"/>
<rect x="754.76" y="1859.79" width="36.13" height="36.13" fill="#d3b197"/>
<rect x="790.50" y="1859.79" width="36.13" height="36.13" fill="#e2d9ac"/>
<rect x="826.23" y="1859.79" width="36.13" height="36.13" fill="#ececbf"/>
<rect x="861.96" y="1859.79" width="36.13" height="36.13" fill="#ebebbb"/>
<rect x="897.69" y="1859.79" width="36.13" height="36.13" fill="#e7e4b2"/>
<rect x="933.42" y="1859.79" width="36.13" height="36.13" fill="#eaeab8"/>
<rect x="969.16" y="1859.79" width="36.13" height="36.13" fill="#d2ae95"/>
<rect x="683.30" y="1895.52" width="36.13" height="36.13" fill="#b07373"/>
<rect x="719.03" y="1895.52" width="36.13" height="36.13" fill="#cea490"/>
<rect x="754.76" y="1895.52" width="36.13" height="36.13" fill="#d0aa93"/>
<rect x="790.50" y="1895.52" width="36.13" height="36.13" fill="#d7be9d"/>
<rect x="826.23" y="1895.52" width="36.13" height="36.13" fill="#dac6a1"/>
<rect x="861.96" y="1895.52" width="36.13" height="36.13" fill="#d7be9d"/>
<rect x="897.69" y="1895.52" width="36.13" height="36.13" fill="#d9c3a0"/>
<rect x="933.42" y="1895.52" width="36.13" height="36.13" fill="#ddcda5"/>
<rect x="969.16" y="1895.52" width="36.13" height="36.13" fill="#d0aa93"/>
<rect x="1004.89" y="1895.52" width="36.13" height="36.13" fill="#e8e7b3"/>
<rect x="683.30" y="1931.25" width="36.13" height="36.13" fill="#996464"/>
<rect x="719.03" y="1931.25" width="36.13" height="36.13" fill="#e3dbad"/>
<rect x="754.76" y="1931.25" width="36.13" height="36.13" fill="#dfd2a8"/>
<rect x="790.50" y="1931.25" width="36.13" height="36.13" fill="#e9e9b4"/>
<rect x="826.23" y="1931.25" width="36.13" height="36.13" fill="#ececbf"/>
<rect x="861.96" y="1931.25" width="36.13" height="36.13" fill="#e2d9ac"/>
<rect x="897.69" y="1931.25" width="36.13" height="36.13" fill="#d5b89a"/>
<rect x="933.42" y="1931.25" width="36.13" height="36.13" fill="#ebebbb"/>
<rect x="969.16" y="1931.25" width="36.13" height="36.13" fill="#d5b79a"/>
<rect x="1004.89" y="1931.25" width="36.13" height="36.13" fill="#ebebbb"/>
<rect x="1040.62" y="1931.25" width="36.13" height="36.13" fill="#e1d7aa"/>
<rect x="683.30" y="1966.99" width="36.13" height="36.13" fill="#b07373"/>
<rect x="719.03" y="1966.99" width="36.13" height="36.13" fill="#cda18f"/>
<rect x="754.76" y="1966.99" width="36.13" height="36.13" fill="#d3b197"/>
<rect x="790.50" y="1966.99" width="36.13" height="36.13" fill="#d4b498"/>
<rect x="826.23" y="1966.99" width="36.13" height="36.13" fill="#d9c3a0"/>
<rect x="861.96" y="1966.99" width="36.13" height="36.13" fill="#ddcda5"/>
<rect x="897.69" y="1966.99" width="36.13" height="36.13" fill="#dccba4"/>
<rect x="933.42" y="1966.99" width="36.13" height="36.13" fill="#e6e2b1"/>
<rect x="969.16" y="1966.99" width="36.13" height="36.13" fill="#d7be9d"/>
<rect x="1004.89" y="1966.99" width="36.13" height="36.13" fill="#e8e7b3"/>
<rect x="1040.62" y="1966.99" width="36.13" height="36.13" fill="#e4deae"/>
<rect x="1076.35" y="1966.99" width="36.13" height="36.13" fill="#e8e7b3"/>
<rect x="683.30" y="2002.72" width="36.13" height="36.18" fill="#9f6868"/>
<rect x="719.03" y="2002.72" width="36.13" height="36.18" fill="#ca998b"/>
<rect x="754.76" y="2002.72" width="36.13" height="36.18" fill="#ca998b"/>
<rect x="790.50" y="2002.72" width="36.13" height="36.18" fill="#ca998b"/>
<rect x="826.23" y="2002.72" width="36.13" height="36.18" fill="#cfa591"/>
<rect x="861.96" y="2002.72" width="36.13" height="36.18" fill="#cfa792"/>
<rect x="897.69" y="2002.72" width="36.13" height="36.18" fill="#d5b79a"/>
<rect x="933.42" y="2002.72" width="36.13" height="36.18" fill="#d6ba9b"/>
<rect x="969.16" y="2002.72" width="36.13" height="36.18" fill="#c68b85"/>
<rect x="1004.89" y="2002.72" width="36.13" height="36.18" fill="#d8c09f"/>
<rect x="1040.62" y="2002.72" width="36.13" height="36.18" fill="#d8bf9e"/>
<rect x="1076.35" y="2002.72" width="36.13" height="36.18" fill="#d6ba9b"/>
<rect x="1112.09" y="2002.72" width="36.13" height="36.18" fill="#e8e7b3"/>
<rect x="683.20" y="1538.20" width="0.9" height="500.70" fill="rgba(40,40,40,0.36)"/>
<rect x="684.10" y="2038.00" width="499.45" height="0.9" fill="rgba(40,40,40,0.36)"/>
<text transform="translate(680.80,1559.57) rotate(-45)" font-size="21.6" text-anchor="end" font-weight="normal" font-style="normal" fill="#000">AMG</text>
<text transform="translate(680.10,1591.40) rotate(-45)" font-size="21.6" text-anchor="end" font-weight="normal" font-style="normal" fill="#000" textLength="95.3" lengthAdjust="spacingAndGlyphs">central V1</text>
<text transform="translate(680.10,1625.43) rotate(-45)" font-size="21.6" text-anchor="end" font-weight="normal" font-style="normal" fill="#000" textLength="124.37" lengthAdjust="spacingAndGlyphs">peripheral V1</text>
<text transform="translate(680.10,1668.06) rotate(-45)" font-size="21.6" text-anchor="end" font-weight="normal" font-style="normal" fill="#000">V2</text>
<text transform="translate(679.80,1703.29) rotate(-45)" font-size="21.6" text-anchor="end" font-weight="normal" font-style="normal" fill="#000">V3</text>
<text transform="translate(679.80,1738.53) rotate(-45)" font-size="21.6" text-anchor="end" font-weight="normal" font-style="normal" fill="#000">hV4</text>
<text transform="translate(679.80,1774.26) rotate(-45)" font-size="21.6" text-anchor="end" font-weight="normal" font-style="normal" fill="#000">FFA</text>
<text transform="translate(679.80,1809.99) rotate(-45)" font-size="21.6" text-anchor="end" font-weight="normal" font-style="normal" fill="#000">VO</text>
<text transform="translate(679.80,1845.72) rotate(-45)" font-size="21.6" text-anchor="end" font-weight="normal" font-style="normal" fill="#000">PHC</text>
<text transform="translate(680.00,1881.96) rotate(-45)" font-size="21.6" text-anchor="end" font-weight="normal" font-style="normal" fill="#000">LO</text>
<text transform="translate(680.00,1917.39) rotate(-45)" font-size="21.6" text-anchor="end" font-weight="normal" font-style="normal" fill="#000">TO</text>
<text transform="translate(680.50,1950.92) rotate(-45)" font-size="21.6" text-anchor="end" font-weight="normal" font-style="normal" fill="#000">V3AB</text>
<text transform="translate(679.80,1988.35) rotate(-45)" font-size="21.6" text-anchor="end" font-weight="normal" font-style="normal" fill="#000">IPS0</text>
<text transform="translate(679.80,2022.58) rotate(-45)" font-size="21.6" text-anchor="end" font-weight="normal" font-style="normal" fill="#000">IPS1-5</text>
<text transform="translate(712.67,2054.55) rotate(-45)" font-size="21.6" text-anchor="end" font-weight="normal" font-style="normal" fill="#000">AMG</text>
<text transform="translate(752.50,2054.55) rotate(-45)" font-size="21.6" text-anchor="end" font-weight="normal" font-style="normal" fill="#000" textLength="95.89" lengthAdjust="spacingAndGlyphs">central V1</text>
<text transform="translate(790.83,2054.55) rotate(-45)" font-size="21.6" text-anchor="end" font-weight="normal" font-style="normal" fill="#000" textLength="123.99" lengthAdjust="spacingAndGlyphs">peripheral V1</text>
<text transform="translate(820.86,2054.55) rotate(-45)" font-size="21.6" text-anchor="end" font-weight="normal" font-style="normal" fill="#000">V2</text>
<text transform="translate(857.19,2054.55) rotate(-45)" font-size="21.6" text-anchor="end" font-weight="normal" font-style="normal" fill="#000">V3</text>
<text transform="translate(893.93,2054.55) rotate(-45)" font-size="21.6" text-anchor="end" font-weight="normal" font-style="normal" fill="#000">hV4</text>
<text transform="translate(930.66,2054.55) rotate(-45)" font-size="21.6" text-anchor="end" font-weight="normal" font-style="normal" fill="#000">FFA</text>
<text transform="translate(966.89,2054.55) rotate(-45)" font-size="21.6" text-anchor="end" font-weight="normal" font-style="normal" fill="#000">VO</text>
<text transform="translate(1003.12,2054.55) rotate(-45)" font-size="21.6" text-anchor="end" font-weight="normal" font-style="normal" fill="#000">PHC</text>
<text transform="translate(1037.86,2054.55) rotate(-45)" font-size="21.6" text-anchor="end" font-weight="normal" font-style="normal" fill="#000">LO</text>
<text transform="translate(1075.09,2054.55) rotate(-45)" font-size="21.6" text-anchor="end" font-weight="normal" font-style="normal" fill="#000">TO</text>
<text transform="translate(1113.42,2054.55) rotate(-45)" font-size="21.6" text-anchor="end" font-weight="normal" font-style="normal" fill="#000">V3AB</text>
<text transform="translate(1150.15,2054.55) rotate(-45)" font-size="21.6" text-anchor="end" font-weight="normal" font-style="normal" fill="#000">IPS0</text>
<text transform="translate(1186.38,2054.55) rotate(-45)" font-size="21.6" text-anchor="end" font-weight="normal" font-style="normal" fill="#000">IPS1-5</text>
<rect x="1330.10" y="1573.93" width="36.13" height="36.13" fill="#ff8a00"/>
<rect x="1330.10" y="1609.66" width="36.13" height="36.13" fill="#ff7800"/>
<rect x="1365.83" y="1609.66" width="36.13" height="36.13" fill="#d40000"/>
<rect x="1330.10" y="1645.40" width="36.13" height="36.13" fill="#ff4400"/>
<rect x="1365.83" y="1645.40" width="36.13" height="36.13" fill="#aa0000"/>
<rect x="1401.56" y="1645.40" width="36.13" height="36.13" fill="#9e0000"/>
<rect x="1330.10" y="1681.13" width="36.13" height="36.13" fill="#ff5f00"/>
<rect x="1365.83" y="1681.13" width="36.13" height="36.13" fill="#ac0000"/>
<rect x="1401.56" y="1681.13" width="36.13" height="36.13" fill="#de0000"/>
<rect x="1437.30" y="1681.13" width="36.13" height="36.13" fill="#b90000"/>
<rect x="1330.10" y="1716.86" width="36.13" height="36.13" fill="#ffbe00"/>
<rect x="1365.83" y="1716.86" width="36.13" height="36.13" fill="#7d0000"/>
<rect x="1401.56" y="1716.86" width="36.13" height="36.13" fill="#aa0000"/>
<rect x="1437.30" y="1716.86" width="36.13" height="36.13" fill="#500000"/>
<rect x="1473.03" y="1716.86" width="36.13" height="36.13" fill="#4b0000"/>
<rect x="1330.10" y="1752.59" width="36.13" height="36.13" fill="#ff3700"/>
<rect x="1365.83" y="1752.59" width="36.13" height="36.13" fill="#ff2800"/>
<rect x="1401.56" y="1752.59" width="36.13" height="36.13" fill="#af0000"/>
<rect x="1437.30" y="1752.59" width="36.13" height="36.13" fill="#ff0f00"/>
<rect x="1473.03" y="1752.59" width="36.13" height="36.13" fill="#ff2800"/>
<rect x="1508.76" y="1752.59" width="36.13" height="36.13" fill="#ff2800"/>
<rect x="1330.10" y="1788.33" width="36.13" height="36.13" fill="#ffb900"/>
<rect x="1365.83" y="1788.33" width="36.13" height="36.13" fill="#7d0000"/>
<rect x="1401.56" y="1788.33" width="36.13" height="36.13" fill="#ac0000"/>
<rect x="1437.30" y="1788.33" width="36.13" height="36.13" fill="#b40000"/>
<rect x="1473.03" y="1788.33" width="36.13" height="36.13" fill="#7d0000"/>
<rect x="1508.76" y="1788.33" width="36.13" height="36.13" fill="#870000"/>
<rect x="1544.49" y="1788.33" width="36.13" height="36.13" fill="#ff0a00"/>
<rect x="1330.10" y="1824.06" width="36.13" height="36.13" fill="#ff6400"/>
<rect x="1365.83" y="1824.06" width="36.13" height="36.13" fill="#870000"/>
<rect x="1401.56" y="1824.06" width="36.13" height="36.13" fill="#730000"/>
<rect x="1437.30" y="1824.06" width="36.13" height="36.13" fill="#b90000"/>
<rect x="1473.03" y="1824.06" width="36.13" height="36.13" fill="#f50000"/>
<rect x="1508.76" y="1824.06" width="36.13" height="36.13" fill="#d70000"/>
<rect x="1544.49" y="1824.06" width="36.13" height="36.13" fill="#dc0000"/>
<rect x="1580.22" y="1824.06" width="36.13" height="36.13" fill="#870000"/>
<rect x="1330.10" y="1859.79" width="36.13" height="36.13" fill="#ff0a00"/>
<rect x="1365.83" y="1859.79" width="36.13" height="36.13" fill="#a50000"/>
<rect x="1401.56" y="1859.79" width="36.13" height="36.13" fill="#be0000"/>
<rect x="1437.30" y="1859.79" width="36.13" height="36.13" fill="#f50000"/>
<rect x="1473.03" y="1859.79" width="36.13" height="36.13" fill="#f50000"/>
<rect x="1508.76" y="1859.79" width="36.13" height="36.13" fill="#690000"/>
<rect x="1544.49" y="1859.79" width="36.13" height="36.13" fill="#cd0000"/>
<rect x="1580.22" y="1859.79" width="36.13" height="36.13" fill="#5f0000"/>
<rect x="1615.96" y="1859.79" width="36.13" height="36.13" fill="#1e0000"/>
<rect x="1330.10" y="1895.52" width="36.13" height="36.13" fill="#ff3c00"/>
<rect x="1365.83" y="1895.52" width="36.13" height="36.13" fill="#ff3c00"/>
<rect x="1401.56" y="1895.52" width="36.13" height="36.13" fill="#aa0000"/>
<rect x="1437.30" y="1895.52" width="36.13" height="36.13" fill="#ff1e00"/>
<rect x="1473.03" y="1895.52" width="36.13" height="36.13" fill="#ff2800"/>
<rect x="1508.76" y="1895.52" width="36.13" height="36.13" fill="#ff1900"/>
<rect x="1544.49" y="1895.52" width="36.13" height="36.13" fill="#ff1e00"/>
<rect x="1580.22" y="1895.52" width="36.13" height="36.13" fill="#ff0500"/>
<rect x="1615.96" y="1895.52" width="36.13" height="36.13" fill="#1e0000"/>
<rect x="1651.69" y="1895.52" width="36.13" height="36.13" fill="#ff3700"/>
<rect x="1330.10" y="1931.25" width="36.13" height="36.13" fill="#ff6e00"/>
<rect x="1365.83" y="1931.25" width="36.13" height="36.13" fill="#870000"/>
<rect x="1401.56" y="1931.25" width="36.13" height="36.13" fill="#7d0000"/>
<rect x="1437.30" y="1931.25" width="36.13" height="36.13" fill="#a00000"/>
<rect x="1473.03" y="1931.25" width="36.13" height="36.13" fill="#c30000"/>
<rect x="1508.76" y="1931.25" width="36.13" height="36.13" fill="#af0000"/>
<rect x="1544.49" y="1931.25" width="36.13" height="36.13" fill="#cd0000"/>
<rect x="1580.22" y="1931.25" width="36.13" height="36.13" fill="#550000"/>
<rect x="1615.96" y="1931.25" width="36.13" height="36.13" fill="#550000"/>
<rect x="1651.69" y="1931.25" width="36.13" height="36.13" fill="#ff1900"/>
<rect x="1687.42" y="1931.25" width="36.13" height="36.13" fill="#ff0500"/>
<rect x="1330.10" y="1966.99" width="36.13" height="36.13" fill="#ff1400"/>
<rect x="1365.83" y="1966.99" width="36.13" height="36.13" fill="#ff7800"/>
<rect x="1401.56" y="1966.99" width="36.13" height="36.13" fill="#f00000"/>
<rect x="1437.30" y="1966.99" width="36.13" height="36.13" fill="#ff6e00"/>
<rect x="1473.03" y="1966.99" width="36.13" height="36.13" fill="#ff4600"/>
<rect x="1508.76" y="1966.99" width="36.13" height="36.13" fill="#ff5000"/>
<rect x="1544.49" y="1966.99" width="36.13" height="36.13" fill="#ff5500"/>
<rect x="1580.22" y="1966.99" width="36.13" height="36.13" fill="#a50000"/>
<rect x="1615.96" y="1966.99" width="36.13" height="36.13" fill="#4b0000"/>
<rect x="1651.69" y="1966.99" width="36.13" height="36.13" fill="#ff2d00"/>
<rect x="1687.42" y="1966.99" width="36.13" height="36.13" fill="#fa0000"/>
<rect x="1723.15" y="1966.99" width="36.13" height="36.13" fill="#fa0000"/>
<rect x="1330.10" y="2002.72" width="36.13" height="36.18" fill="#ff2800"/>
<rect x="1365.83" y="2002.72" width="36.13" height="36.18" fill="#8c0000"/>
<rect x="1401.56" y="2002.72" width="36.13" height="36.18" fill="#460000"/>
<rect x="1437.30" y="2002.72" width="36.13" height="36.18" fill="#eb0000"/>
<rect x="1473.03" y="2002.72" width="36.13" height="36.18" fill="#ff0a00"/>
<rect x="1508.76" y="2002.72" width="36.13" height="36.18" fill="#ff2300"/>
<rect x="1544.49" y="2002.72" width="36.13" height="36.18" fill="#eb0000"/>
<rect x="1580.22" y="2002.72" width="36.13" height="36.18" fill="#5a0000"/>
<rect x="1615.96" y="2002.72" width="36.13" height="36.18" fill="#230000"/>
<rect x="1651.69" y="2002.72" width="36.13" height="36.18" fill="#5a0000"/>
<rect x="1687.42" y="2002.72" width="36.13" height="36.18" fill="#b90000"/>
<rect x="1723.15" y="2002.72" width="36.13" height="36.18" fill="#960000"/>
<rect x="1758.89" y="2002.72" width="36.13" height="36.18" fill="#820000"/>
<rect x="1330.00" y="1538.20" width="0.9" height="500.70" fill="rgba(40,40,40,0.36)"/>
<rect x="1330.90" y="2038.00" width="499.45" height="0.9" fill="rgba(40,40,40,0.36)"/>
<text transform="translate(1325.60,1559.57) rotate(-45)" font-size="21.6" text-anchor="end" font-weight="normal" font-style="normal" fill="#000">AMG</text>
<text transform="translate(1324.90,1591.40) rotate(-45)" font-size="21.6" text-anchor="end" font-weight="normal" font-style="normal" fill="#000" textLength="95.3" lengthAdjust="spacingAndGlyphs">central V1</text>
<text transform="translate(1324.90,1625.43) rotate(-45)" font-size="21.6" text-anchor="end" font-weight="normal" font-style="normal" fill="#000" textLength="124.37" lengthAdjust="spacingAndGlyphs">peripheral V1</text>
<text transform="translate(1324.90,1668.06) rotate(-45)" font-size="21.6" text-anchor="end" font-weight="normal" font-style="normal" fill="#000">V2</text>
<text transform="translate(1324.60,1703.29) rotate(-45)" font-size="21.6" text-anchor="end" font-weight="normal" font-style="normal" fill="#000">V3</text>
<text transform="translate(1324.60,1738.53) rotate(-45)" font-size="21.6" text-anchor="end" font-weight="normal" font-style="normal" fill="#000">hV4</text>
<text transform="translate(1324.60,1774.26) rotate(-45)" font-size="21.6" text-anchor="end" font-weight="normal" font-style="normal" fill="#000">FFA</text>
<text transform="translate(1324.60,1809.99) rotate(-45)" font-size="21.6" text-anchor="end" font-weight="normal" font-style="normal" fill="#000">VO</text>
<text transform="translate(1324.60,1845.72) rotate(-45)" font-size="21.6" text-anchor="end" font-weight="normal" font-style="normal" fill="#000">PHC</text>
<text transform="translate(1324.80,1881.96) rotate(-45)" font-size="21.6" text-anchor="end" font-weight="normal" font-style="normal" fill="#000">LO</text>
<text transform="translate(1324.80,1917.39) rotate(-45)" font-size="21.6" text-anchor="end" font-weight="normal" font-style="normal" fill="#000">TO</text>
<text transform="translate(1325.30,1950.92) rotate(-45)" font-size="21.6" text-anchor="end" font-weight="normal" font-style="normal" fill="#000">V3AB</text>
<text transform="translate(1324.60,1988.35) rotate(-45)" font-size="21.6" text-anchor="end" font-weight="normal" font-style="normal" fill="#000">IPS0</text>
<text transform="translate(1324.60,2022.58) rotate(-45)" font-size="21.6" text-anchor="end" font-weight="normal" font-style="normal" fill="#000">IPS1-5</text>
<text transform="translate(1364.57,2052.55) rotate(-45)" font-size="21.6" text-anchor="end" font-weight="normal" font-style="normal" fill="#000">AMG</text>
<text transform="translate(1404.40,2052.55) rotate(-45)" font-size="21.6" text-anchor="end" font-weight="normal" font-style="normal" fill="#000" textLength="95.89" lengthAdjust="spacingAndGlyphs">central V1</text>
<text transform="translate(1442.73,2052.55) rotate(-45)" font-size="21.6" text-anchor="end" font-weight="normal" font-style="normal" fill="#000" textLength="123.99" lengthAdjust="spacingAndGlyphs">peripheral V1</text>
<text transform="translate(1472.76,2052.55) rotate(-45)" font-size="21.6" text-anchor="end" font-weight="normal" font-style="normal" fill="#000">V2</text>
<text transform="translate(1509.09,2052.55) rotate(-45)" font-size="21.6" text-anchor="end" font-weight="normal" font-style="normal" fill="#000">V3</text>
<text transform="translate(1545.83,2052.55) rotate(-45)" font-size="21.6" text-anchor="end" font-weight="normal" font-style="normal" fill="#000">hV4</text>
<text transform="translate(1582.56,2052.55) rotate(-45)" font-size="21.6" text-anchor="end" font-weight="normal" font-style="normal" fill="#000">FFA</text>
<text transform="translate(1618.79,2052.55) rotate(-45)" font-size="21.6" text-anchor="end" font-weight="normal" font-style="normal" fill="#000">VO</text>
<text transform="translate(1655.02,2052.55) rotate(-45)" font-size="21.6" text-anchor="end" font-weight="normal" font-style="normal" fill="#000">PHC</text>
<text transform="translate(1689.76,2052.55) rotate(-45)" font-size="21.6" text-anchor="end" font-weight="normal" font-style="normal" fill="#000">LO</text>
<text transform="translate(1726.99,2052.55) rotate(-45)" font-size="21.6" text-anchor="end" font-weight="normal" font-style="normal" fill="#000">TO</text>
<text transform="translate(1765.32,2052.55) rotate(-45)" font-size="21.6" text-anchor="end" font-weight="normal" font-style="normal" fill="#000">V3AB</text>
<text transform="translate(1802.05,2052.55) rotate(-45)" font-size="21.6" text-anchor="end" font-weight="normal" font-style="normal" fill="#000">IPS0</text>
<text transform="translate(1838.28,2052.55) rotate(-45)" font-size="21.6" text-anchor="end" font-weight="normal" font-style="normal" fill="#000">IPS1-5</text>
<text x="1348.2" y="1601.3" font-size="28.5" text-anchor="middle" font-weight="bold" font-style="italic" fill="#000">†</text>
<text x="1348.2" y="1636.0" font-size="28.5" text-anchor="middle" font-weight="bold" font-style="italic" fill="#000">†</text>
<text x="1348.2" y="1757.6" font-size="40" text-anchor="middle" font-weight="normal" font-style="normal" fill="#000" stroke="#000" stroke-width="0.6">*</text>
<text x="1348.2" y="1828.3" font-size="40" text-anchor="middle" font-weight="normal" font-style="normal" fill="#000" stroke="#000" stroke-width="0.6">*</text>
<text x="1103.8" y="1575.4" font-size="23.7" text-anchor="end" font-weight="normal" font-style="italic" fill="#000">all squares: P &lt; 0.05</text>
<text x="1105.4" y="1605.5" font-size="23.7" text-anchor="end" font-weight="normal" font-style="italic" fill="#000">(Bonferroni corrected)</text>
<defs><linearGradient id="gpink1581" x1="0" y1="0" x2="0" y2="1"><stop offset="0.0000" stop-color="#ffffff"/><stop offset="0.0312" stop-color="#fcfcf7"/><stop offset="0.0625" stop-color="#fafaef"/><stop offset="0.0938" stop-color="#f7f7e6"/><stop offset="0.1250" stop-color="#f4f4dd"/><stop offset="0.1562" stop-color="#f1f1d3"/><stop offset="0.1875" stop-color="#efefca"/><stop offset="0.2188" stop-color="#ececbf"/><stop offset="0.2500" stop-color="#e9e9b4"/><stop offset="0.2812" stop-color="#e6e2b1"/><stop offset="0.3125" stop-color="#e3dbad"/><stop offset="0.3438" stop-color="#e0d3a9"/><stop offset="0.3750" stop-color="#ddcca5"/><stop offset="0.4062" stop-color="#dac4a0"/><stop offset="0.4375" stop-color="#d7bc9c"/><stop offset="0.4688" stop-color="#d3b398"/><stop offset="0.5000" stop-color="#d0aa93"/><stop offset="0.5312" stop-color="#cda08f"/><stop offset="0.5625" stop-color="#ca968a"/><stop offset="0.5938" stop-color="#c68b85"/><stop offset="0.6250" stop-color="#c38080"/><stop offset="0.6562" stop-color="#ba7a7a"/><stop offset="0.6875" stop-color="#b27474"/><stop offset="0.7188" stop-color="#a96e6e"/><stop offset="0.7500" stop-color="#9f6868"/><stop offset="0.7812" stop-color="#956161"/><stop offset="0.8125" stop-color="#8a5a5a"/><stop offset="0.8438" stop-color="#7e5252"/><stop offset="0.8750" stop-color="#704a4a"/><stop offset="0.9062" stop-color="#614040"/><stop offset="0.9375" stop-color="#503434"/><stop offset="0.9688" stop-color="#382525"/><stop offset="1.0000" stop-color="#000000"/></linearGradient></defs>
<rect x="1137.8" y="1581.3" width="20.6" height="253.5" fill="url(#gpink1581)" stroke="#666" stroke-width="1.1"/>
<text x="1148.1" y="1575.0" font-size="20.3" text-anchor="middle" font-weight="normal" font-style="normal" fill="#000">1</text>
<text x="1148.1" y="1855.8" font-size="20.3" text-anchor="middle" font-weight="normal" font-style="normal" fill="#000">0</text>
<text transform="translate(1171.30,1707.05) rotate(90)" font-size="19.8" text-anchor="middle" font-weight="normal" font-style="normal" fill="#000">correlation coeffifient</text>
<text x="1743.8" y="1575.2" font-size="23.7" text-anchor="end" font-weight="normal" font-style="italic" fill="#000">P &lt; 0.1</text>
<text x="1662.6" y="1565.5" font-size="26" text-anchor="middle" font-weight="normal" font-style="italic" fill="#000" stroke="#000" stroke-width="0.3">†</text>
<text x="1553.0" y="1575.2" font-size="23.7" text-anchor="start" font-weight="normal" font-style="italic" fill="#000">P &lt; 0.05,</text>
<text x="1545.5" y="1572.7" font-size="38" text-anchor="middle" font-weight="normal" font-style="normal" fill="#000" stroke="#000" stroke-width="0.4">*</text>
<text x="1745.2" y="1605.5" font-size="23.7" text-anchor="end" font-weight="normal" font-style="italic" fill="#000">(Bonferroni corrected)</text>
<defs><linearGradient id="ghot1581" x1="0" y1="0" x2="0" y2="1"><stop offset="0.0000" stop-color="#ffffff"/><stop offset="0.0312" stop-color="#ffffdf"/><stop offset="0.0625" stop-color="#ffffbf"/><stop offset="0.0938" stop-color="#ffff9f"/><stop offset="0.1250" stop-color="#ffff80"/><stop offset="0.1562" stop-color="#ffff60"/><stop offset="0.1875" stop-color="#ffff40"/><stop offset="0.2188" stop-color="#ffff20"/><stop offset="0.2500" stop-color="#ffff00"/><stop offset="0.2812" stop-color="#ffea00"/><stop offset="0.3125" stop-color="#ffd400"/><stop offset="0.3438" stop-color="#ffbf00"/><stop offset="0.3750" stop-color="#ffaa00"/><stop offset="0.4062" stop-color="#ff9500"/><stop offset="0.4375" stop-color="#ff8000"/><stop offset="0.4688" stop-color="#ff6a00"/><stop offset="0.5000" stop-color="#ff5500"/><stop offset="0.5312" stop-color="#ff4000"/><stop offset="0.5625" stop-color="#ff2a00"/><stop offset="0.5938" stop-color="#ff1500"/><stop offset="0.6250" stop-color="#ff0000"/><stop offset="0.6562" stop-color="#ea0000"/><stop offset="0.6875" stop-color="#d40000"/><stop offset="0.7188" stop-color="#bf0000"/><stop offset="0.7500" stop-color="#aa0000"/><stop offset="0.7812" stop-color="#950000"/><stop offset="0.8125" stop-color="#800000"/><stop offset="0.8438" stop-color="#6a0000"/><stop offset="0.8750" stop-color="#550000"/><stop offset="0.9062" stop-color="#400000"/><stop offset="0.9375" stop-color="#2a0000"/><stop offset="0.9688" stop-color="#150000"/><stop offset="1.0000" stop-color="#000000"/></linearGradient></defs>
<rect x="1782.9" y="1581.3" width="20.3" height="253.5" fill="url(#ghot1581)" stroke="#666" stroke-width="1.1"/>
<text x="1793.0500000000002" y="1575.0" font-size="20.3" text-anchor="middle" font-weight="normal" font-style="normal" fill="#000">0.07</text>
<text x="1793.0500000000002" y="1855.8" font-size="20.3" text-anchor="middle" font-weight="normal" font-style="normal" fill="#000">-0.02</text>
<text transform="translate(1816.60,1707.05) rotate(90)" font-size="19.8" text-anchor="middle" font-weight="normal" font-style="normal" fill="#000">difference in correlation</text>
<text x="1847.6" y="2185.8" font-size="26.0" text-anchor="end" font-weight="normal" font-style="normal" fill="#000">n=15 unique partcipants</text>
</svg>
</body></html>
